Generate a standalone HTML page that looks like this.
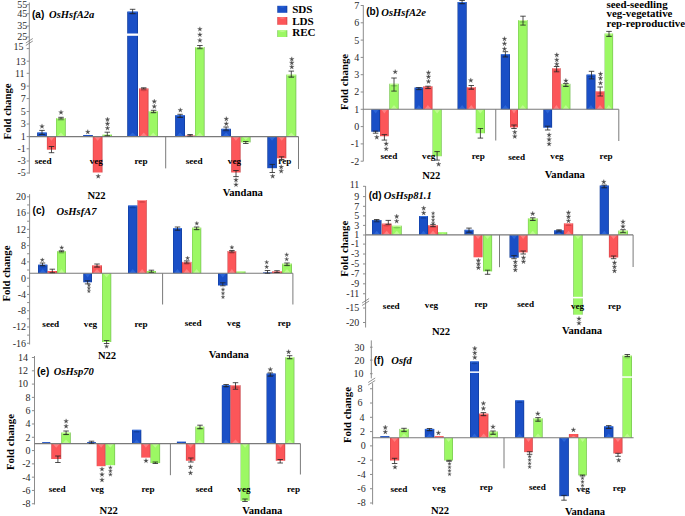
<!DOCTYPE html>
<html><head><meta charset="utf-8"><title>Fold change charts</title><style>html,body{margin:0;padding:0;background:#fff;width:685px;height:516px;overflow:hidden}svg{display:block}</style></head><body>
<svg width="685" height="516" viewBox="0 0 685 516">
<defs>
<linearGradient id="gB" x1="0" x2="1" y1="0" y2="0"><stop offset="0" stop-color="#0e3994"/><stop offset="0.1" stop-color="#1a4fc6"/><stop offset="0.86" stop-color="#1a4fc6"/><stop offset="1" stop-color="#0e3994"/></linearGradient>
<linearGradient id="gR" x1="0" x2="1" y1="0" y2="0"><stop offset="0" stop-color="#c83e42"/><stop offset="0.1" stop-color="#fc5659"/><stop offset="0.86" stop-color="#fc5659"/><stop offset="1" stop-color="#c83e42"/></linearGradient>
<linearGradient id="gG" x1="0" x2="1" y1="0" y2="0"><stop offset="0" stop-color="#74bc52"/><stop offset="0.1" stop-color="#9cf864"/><stop offset="0.86" stop-color="#9cf864"/><stop offset="1" stop-color="#74bc52"/></linearGradient>
<radialGradient id="hB" cx="0.5" cy="0" r="0.6" fx="0.5" fy="0"><stop offset="0" stop-color="#3b78e6" stop-opacity="0.9"/><stop offset="1" stop-color="#3b78e6" stop-opacity="0"/></radialGradient>
<radialGradient id="hR" cx="0.5" cy="0" r="0.6" fx="0.5" fy="0"><stop offset="0" stop-color="#ffa0a0" stop-opacity="0.9"/><stop offset="1" stop-color="#ffa0a0" stop-opacity="0"/></radialGradient>
<radialGradient id="hG" cx="0.5" cy="0" r="0.6" fx="0.5" fy="0"><stop offset="0" stop-color="#d8ffb0" stop-opacity="0.9"/><stop offset="1" stop-color="#d8ffb0" stop-opacity="0"/></radialGradient>
</defs>
<rect width="685" height="516" fill="#fff"/>
<rect x="37.1" y="132.5" width="9.8" height="4.1" fill="url(#gB)"/>
<rect x="37.7" y="132.5" width="8.6" height="1" fill="#3b78e6" fill-opacity="0.85"/>
<ellipse cx="42" cy="134.4" rx="3.3" ry="0.9" fill="#0e3994" fill-opacity="0.75"/>
<path d="M38.3 136.6L42 134.14L45.7 136.6Z" fill="#3b78e6" fill-opacity="0.55"/>
<rect x="46.9" y="136.6" width="9.1" height="13.1" fill="url(#gR)"/>
<path d="M48.1 136.6L51.45 140.8L54.8 136.6Z" fill="#ffa0a0" fill-opacity="0.55"/>
<rect x="56" y="118" width="9.8" height="18.6" fill="url(#gG)"/>
<rect x="56.6" y="118" width="8.6" height="1" fill="#d8ffb0" fill-opacity="0.85"/>
<ellipse cx="60.9" cy="119.9" rx="3.3" ry="0.9" fill="#74bc52" fill-opacity="0.75"/>
<path d="M57.2 136.6L60.9 132.4L64.6 136.6Z" fill="#d8ffb0" fill-opacity="0.55"/>
<rect x="83.2" y="135" width="9.6" height="1.6" fill="url(#gB)"/>
<rect x="92.8" y="136.6" width="9.7" height="35.9" fill="url(#gR)"/>
<path d="M94 136.6L97.65 140.8L101.3 136.6Z" fill="#ffa0a0" fill-opacity="0.55"/>
<rect x="102.5" y="134.6" width="9.5" height="2" fill="url(#gG)"/>
<path d="M103.7 136.6L107.25 135.4L110.8 136.6Z" fill="#d8ffb0" fill-opacity="0.55"/>
<rect x="127.2" y="11.6" width="10.8" height="125" fill="url(#gB)"/>
<rect x="127.8" y="11.6" width="9.6" height="1" fill="#3b78e6" fill-opacity="0.85"/>
<ellipse cx="132.6" cy="13.5" rx="3.8" ry="0.9" fill="#0e3994" fill-opacity="0.75"/>
<path d="M128.4 136.6L132.6 132.4L136.8 136.6Z" fill="#3b78e6" fill-opacity="0.55"/>
<rect x="126.7" y="33.5" width="11.8" height="2.3" fill="#fff"/>
<rect x="139" y="88.4" width="9.5" height="48.2" fill="url(#gR)"/>
<rect x="139.6" y="88.4" width="8.3" height="1" fill="#ffa0a0" fill-opacity="0.85"/>
<ellipse cx="143.75" cy="90.3" rx="3.15" ry="0.9" fill="#c83e42" fill-opacity="0.75"/>
<path d="M140.2 136.6L143.75 132.4L147.3 136.6Z" fill="#ffa0a0" fill-opacity="0.55"/>
<rect x="148.5" y="111.2" width="9.5" height="25.4" fill="url(#gG)"/>
<rect x="149.1" y="111.2" width="8.3" height="1" fill="#d8ffb0" fill-opacity="0.85"/>
<ellipse cx="153.25" cy="113.1" rx="3.15" ry="0.9" fill="#74bc52" fill-opacity="0.75"/>
<path d="M149.7 136.6L153.25 132.4L156.8 136.6Z" fill="#d8ffb0" fill-opacity="0.55"/>
<rect x="175.1" y="115.2" width="9.9" height="21.4" fill="url(#gB)"/>
<rect x="175.7" y="115.2" width="8.7" height="1" fill="#3b78e6" fill-opacity="0.85"/>
<ellipse cx="180.05" cy="117.1" rx="3.35" ry="0.9" fill="#0e3994" fill-opacity="0.75"/>
<path d="M176.3 136.6L180.05 132.4L183.8 136.6Z" fill="#3b78e6" fill-opacity="0.55"/>
<rect x="185.3" y="135.5" width="9.7" height="1.1" fill="url(#gR)"/>
<rect x="195" y="47" width="9.6" height="89.6" fill="url(#gG)"/>
<rect x="195.6" y="47" width="8.4" height="1" fill="#d8ffb0" fill-opacity="0.85"/>
<ellipse cx="199.8" cy="48.9" rx="3.2" ry="0.9" fill="#74bc52" fill-opacity="0.75"/>
<path d="M196.2 136.6L199.8 132.4L203.4 136.6Z" fill="#d8ffb0" fill-opacity="0.55"/>
<rect x="221.2" y="128.8" width="9.8" height="7.8" fill="url(#gB)"/>
<rect x="221.8" y="128.8" width="8.6" height="1" fill="#3b78e6" fill-opacity="0.85"/>
<ellipse cx="226.1" cy="130.7" rx="3.3" ry="0.9" fill="#0e3994" fill-opacity="0.75"/>
<path d="M222.4 136.6L226.1 132.4L229.8 136.6Z" fill="#3b78e6" fill-opacity="0.55"/>
<rect x="231.2" y="136.6" width="9.4" height="35.9" fill="url(#gR)"/>
<path d="M232.4 136.6L235.9 140.8L239.4 136.6Z" fill="#ffa0a0" fill-opacity="0.55"/>
<rect x="240.8" y="136.6" width="9.8" height="5.8" fill="url(#gG)"/>
<path d="M242 136.6L245.7 140.08L249.4 136.6Z" fill="#d8ffb0" fill-opacity="0.55"/>
<rect x="267.3" y="136.6" width="9.6" height="31.6" fill="url(#gB)"/>
<path d="M268.5 136.6L272.1 140.8L275.7 136.6Z" fill="#3b78e6" fill-opacity="0.55"/>
<rect x="277.1" y="136.6" width="9.2" height="21.7" fill="url(#gR)"/>
<path d="M278.3 136.6L281.7 140.8L285.1 136.6Z" fill="#ffa0a0" fill-opacity="0.55"/>
<rect x="286.3" y="74.6" width="10" height="62" fill="url(#gG)"/>
<rect x="286.9" y="74.6" width="8.8" height="1" fill="#d8ffb0" fill-opacity="0.85"/>
<ellipse cx="291.3" cy="76.5" rx="3.4" ry="0.9" fill="#74bc52" fill-opacity="0.75"/>
<path d="M287.5 136.6L291.3 132.4L295.1 136.6Z" fill="#d8ffb0" fill-opacity="0.55"/>
<line x1="29.3" y1="2.5" x2="29.3" y2="173.75" stroke="#8c8c8c" stroke-width="1"/>
<line x1="26.7" y1="4.6" x2="29.3" y2="4.6" stroke="#8c8c8c" stroke-width="1"/>
<text x="27.3" y="8" font-family="Liberation Serif" font-size="10" text-anchor="end" fill="#2a2a2a" >55</text>
<line x1="26.7" y1="13.7" x2="29.3" y2="13.7" stroke="#8c8c8c" stroke-width="1"/>
<text x="27.3" y="17.1" font-family="Liberation Serif" font-size="10" text-anchor="end" fill="#2a2a2a" >45</text>
<line x1="26.7" y1="26" x2="29.3" y2="26" stroke="#8c8c8c" stroke-width="1"/>
<text x="27.3" y="29.4" font-family="Liberation Serif" font-size="10" text-anchor="end" fill="#2a2a2a" >35</text>
<line x1="26.7" y1="37" x2="29.3" y2="37" stroke="#8c8c8c" stroke-width="1"/>
<text x="27.3" y="40.4" font-family="Liberation Serif" font-size="10" text-anchor="end" fill="#2a2a2a" >25</text>
<line x1="26.7" y1="48.6" x2="29.3" y2="48.6" stroke="#8c8c8c" stroke-width="1"/>
<text x="23.5" y="49.9" font-family="Liberation Serif" font-size="10" text-anchor="end" fill="#2a2a2a" >15</text>
<line x1="26.7" y1="61.2" x2="29.3" y2="61.2" stroke="#8c8c8c" stroke-width="1"/>
<text x="25.8" y="64.6" font-family="Liberation Serif" font-size="10" text-anchor="end" fill="#2a2a2a" >13</text>
<line x1="26.7" y1="73.3" x2="29.3" y2="73.3" stroke="#8c8c8c" stroke-width="1"/>
<text x="24.6" y="76.7" font-family="Liberation Serif" font-size="10" text-anchor="end" fill="#2a2a2a" >11</text>
<line x1="26.7" y1="86.1" x2="29.3" y2="86.1" stroke="#8c8c8c" stroke-width="1"/>
<text x="25.8" y="89.5" font-family="Liberation Serif" font-size="10" text-anchor="end" fill="#2a2a2a" >9</text>
<line x1="26.7" y1="98.6" x2="29.3" y2="98.6" stroke="#8c8c8c" stroke-width="1"/>
<text x="25.8" y="102" font-family="Liberation Serif" font-size="10" text-anchor="end" fill="#2a2a2a" >7</text>
<line x1="26.7" y1="111.5" x2="29.3" y2="111.5" stroke="#8c8c8c" stroke-width="1"/>
<text x="25.8" y="114.9" font-family="Liberation Serif" font-size="10" text-anchor="end" fill="#2a2a2a" >5</text>
<line x1="26.7" y1="124" x2="29.3" y2="124" stroke="#8c8c8c" stroke-width="1"/>
<text x="25.8" y="127.4" font-family="Liberation Serif" font-size="10" text-anchor="end" fill="#2a2a2a" >3</text>
<line x1="26.7" y1="136.6" x2="29.3" y2="136.6" stroke="#8c8c8c" stroke-width="1"/>
<text x="25.8" y="140" font-family="Liberation Serif" font-size="10" text-anchor="end" fill="#2a2a2a" >1</text>
<line x1="26.7" y1="148.8" x2="29.3" y2="148.8" stroke="#8c8c8c" stroke-width="1"/>
<text x="25.8" y="152.2" font-family="Liberation Serif" font-size="10" text-anchor="end" fill="#2a2a2a" >-1</text>
<line x1="26.7" y1="161" x2="29.3" y2="161" stroke="#8c8c8c" stroke-width="1"/>
<text x="25.8" y="164.4" font-family="Liberation Serif" font-size="10" text-anchor="end" fill="#2a2a2a" >-3</text>
<line x1="26.7" y1="173" x2="29.3" y2="173" stroke="#8c8c8c" stroke-width="1"/>
<text x="25.8" y="176.4" font-family="Liberation Serif" font-size="10" text-anchor="end" fill="#2a2a2a" >-5</text>
<line x1="29.3" y1="136.6" x2="298.5" y2="136.6" stroke="#7a7a7a" stroke-width="1.1"/>
<line x1="165.7" y1="136.6" x2="165.7" y2="168.4" stroke="#7a7a7a" stroke-width="1"/>
<line x1="298.5" y1="136.6" x2="298.5" y2="169" stroke="#7a7a7a" stroke-width="1"/>
<text x="43.1" y="164.3" font-family="Liberation Serif" font-size="9.2" font-weight="bold" text-anchor="middle" fill="#000" >seed</text>
<text x="96.3" y="164.3" font-family="Liberation Serif" font-size="9.2" font-weight="bold" text-anchor="middle" fill="#000" >veg</text>
<text x="141" y="164.3" font-family="Liberation Serif" font-size="9.2" font-weight="bold" text-anchor="middle" fill="#000" >rep</text>
<text x="194.1" y="164.3" font-family="Liberation Serif" font-size="9.2" font-weight="bold" text-anchor="middle" fill="#000" >seed</text>
<text x="234.5" y="164.3" font-family="Liberation Serif" font-size="9.2" font-weight="bold" text-anchor="middle" fill="#000" >veg</text>
<text x="284.9" y="164.3" font-family="Liberation Serif" font-size="9.2" font-weight="bold" text-anchor="middle" fill="#000" >rep</text>
<text x="32" y="17.8" font-family="Liberation Sans" font-size="10" font-weight="bold" fill="#000" >(a)</text>
<text x="49" y="18" font-family="Liberation Serif" font-size="10.6" font-weight="bold" font-style="italic" fill="#000" >OsHsfA2a</text>
<text x="7.6" y="111.4" font-family="Liberation Serif" font-size="10.8" font-weight="bold" text-anchor="middle" fill="#000" transform="rotate(-90 7.6 111.4)" dy="3.6">Fold change</text>
<text x="96.5" y="199.45" font-family="Liberation Serif" font-size="10.6" font-weight="bold" text-anchor="middle" fill="#000" >N22</text>
<text x="242.75" y="196.2" font-family="Liberation Serif" font-size="10.6" font-weight="bold" text-anchor="middle" fill="#000" >Vandana</text>
<path d="M39.25 130.4H44.75M42 130.4V134.6M39.25 134.6H44.75" stroke="#222" stroke-width="0.8" fill="none"/>
<path d="M48.75 146.5H54.25M51.5 146.5V152.7M48.75 152.7H54.25" stroke="#222" stroke-width="0.8" fill="none"/>
<path d="M58.25 117.3H63.75M61 117.3V118.9M58.25 118.9H63.75" stroke="#222" stroke-width="0.8" fill="none"/>
<path d="M104.55 132.2H110.05M107.3 132.2V135.7M104.55 135.7H110.05" stroke="#222" stroke-width="0.8" fill="none"/>
<path d="M129.85 9.3H135.35M132.6 9.3V13.6M129.85 13.6H135.35" stroke="#222" stroke-width="0.8" fill="none"/>
<path d="M140.95 87.8H146.45M143.7 87.8V89M140.95 89H146.45" stroke="#222" stroke-width="0.8" fill="none"/>
<path d="M150.85 110.3H156.35M153.6 110.3V112.4M150.85 112.4H156.35" stroke="#222" stroke-width="0.8" fill="none"/>
<path d="M177.35 114.3H182.85M180.1 114.3V117.5M177.35 117.5H182.85" stroke="#222" stroke-width="0.8" fill="none"/>
<path d="M187.35 134.5H192.85M190.1 134.5V136M187.35 136H192.85" stroke="#222" stroke-width="0.8" fill="none"/>
<path d="M197.15 45.5H202.65M199.9 45.5V48.2M197.15 48.2H202.65" stroke="#222" stroke-width="0.8" fill="none"/>
<path d="M223.35 127H228.85M226.1 127V130M223.35 130H228.85" stroke="#222" stroke-width="0.8" fill="none"/>
<path d="M233.25 170.5H238.75M236 170.5V176.6M233.25 176.6H238.75" stroke="#222" stroke-width="0.8" fill="none"/>
<path d="M243.05 141.5H248.55M245.8 141.5V143.5M243.05 143.5H248.55" stroke="#222" stroke-width="0.8" fill="none"/>
<path d="M269.55 164.4H275.05M272.3 164.4V172.5M269.55 172.5H275.05" stroke="#222" stroke-width="0.8" fill="none"/>
<path d="M278.85 156.8H284.35M281.6 156.8V159.5M278.85 159.5H284.35" stroke="#222" stroke-width="0.8" fill="none"/>
<path d="M288.55 71.1H294.05M291.3 71.1V77.2M288.55 77.2H294.05" stroke="#222" stroke-width="0.8" fill="none"/>
<path d="M42 123.9L42.53 125.67L44.38 125.63L42.86 126.68L43.47 128.42L42 127.3L40.53 128.42L41.14 126.68L39.62 125.63L41.47 125.67ZM61 109.9L61.53 111.67L63.38 111.63L61.86 112.68L62.47 114.42L61 113.3L59.53 114.42L60.14 112.68L58.62 111.63L60.47 111.67ZM87.8 129.5L88.33 131.27L90.18 131.23L88.66 132.28L89.27 134.02L87.8 132.9L86.33 134.02L86.94 132.28L85.42 131.23L87.27 131.27ZM98.2 173.8L98.73 175.57L100.58 175.53L99.06 176.58L99.67 178.32L98.2 177.2L96.73 178.32L97.34 176.58L95.82 175.53L97.67 175.57ZM107.5 117L108.03 118.77L109.88 118.73L108.36 119.78L108.97 121.52L107.5 120.4L106.03 121.52L106.64 119.78L105.12 118.73L106.97 118.77ZM107.5 121.3L108.03 123.07L109.88 123.03L108.36 124.08L108.97 125.82L107.5 124.7L106.03 125.82L106.64 124.08L105.12 123.03L106.97 123.07ZM107.5 125.7L108.03 127.47L109.88 127.43L108.36 128.48L108.97 130.22L107.5 129.1L106.03 130.22L106.64 128.48L105.12 127.43L106.97 127.47ZM154.3 99.1L154.83 100.87L156.68 100.83L155.16 101.88L155.77 103.62L154.3 102.5L152.83 103.62L153.44 101.88L151.92 100.83L153.77 100.87ZM154.3 104L154.83 105.77L156.68 105.73L155.16 106.78L155.77 108.52L154.3 107.4L152.83 108.52L153.44 106.78L151.92 105.73L153.77 105.77ZM180.3 107.7L180.83 109.47L182.68 109.43L181.16 110.48L181.77 112.22L180.3 111.1L178.83 112.22L179.44 110.48L177.92 109.43L179.77 109.47ZM199.9 26.7L200.43 28.47L202.28 28.43L200.76 29.48L201.37 31.22L199.9 30.1L198.43 31.22L199.04 29.48L197.52 28.43L199.37 28.47ZM199.9 32.2L200.43 33.97L202.28 33.93L200.76 34.98L201.37 36.72L199.9 35.6L198.43 36.72L199.04 34.98L197.52 33.93L199.37 33.97ZM199.9 37.9L200.43 39.67L202.28 39.63L200.76 40.68L201.37 42.42L199.9 41.3L198.43 42.42L199.04 40.68L197.52 39.63L199.37 39.67ZM226.3 116.5L226.83 118.27L228.68 118.23L227.16 119.28L227.77 121.02L226.3 119.9L224.83 121.02L225.44 119.28L223.92 118.23L225.77 118.27ZM226.3 121.3L226.83 123.07L228.68 123.03L227.16 124.08L227.77 125.82L226.3 124.7L224.83 125.82L225.44 124.08L223.92 123.03L225.77 123.07ZM236 177.5L236.53 179.27L238.38 179.23L236.86 180.28L237.47 182.02L236 180.9L234.53 182.02L235.14 180.28L233.62 179.23L235.47 179.27ZM236 182.2L236.53 183.97L238.38 183.93L236.86 184.98L237.47 186.72L236 185.6L234.53 186.72L235.14 184.98L233.62 183.93L235.47 183.97ZM272.7 173.8L273.23 175.57L275.08 175.53L273.56 176.58L274.17 178.32L272.7 177.2L271.23 178.32L271.84 176.58L270.32 175.53L272.17 175.57ZM281.2 164.6L281.73 166.37L283.58 166.33L282.06 167.38L282.67 169.12L281.2 168L279.73 169.12L280.34 167.38L278.82 166.33L280.67 166.37ZM281.2 168.7L281.73 170.47L283.58 170.43L282.06 171.48L282.67 173.22L281.2 172.1L279.73 173.22L280.34 171.48L278.82 170.43L280.67 170.47ZM291.8 56.7L292.33 58.47L294.18 58.43L292.66 59.48L293.27 61.22L291.8 60.1L290.33 61.22L290.94 59.48L289.42 58.43L291.27 58.47ZM291.8 60.4L292.33 62.17L294.18 62.13L292.66 63.18L293.27 64.92L291.8 63.8L290.33 64.92L290.94 63.18L289.42 62.13L291.27 62.17ZM291.8 64.5L292.33 66.27L294.18 66.23L292.66 67.28L293.27 69.02L291.8 67.9L290.33 69.02L290.94 67.28L289.42 66.23L291.27 66.27Z" fill="#4a4a4a" stroke="#4a4a4a" stroke-width="0.25"/>
<path d="M25.8 43L32.8 38.5M25.8 45.5L32.8 41" stroke="#777" stroke-width="0.8" fill="none"/>
<rect x="371.25" y="109.3" width="8.75" height="22.45" fill="url(#gB)"/>
<path d="M372.45 109.3L375.62 113.5L378.8 109.3Z" fill="#3b78e6" fill-opacity="0.55"/>
<rect x="380" y="109.3" width="8.75" height="26.95" fill="url(#gR)"/>
<path d="M381.2 109.3L384.38 113.5L387.55 109.3Z" fill="#ffa0a0" fill-opacity="0.55"/>
<rect x="389.25" y="83.75" width="9.5" height="25.55" fill="url(#gG)"/>
<rect x="389.85" y="83.75" width="8.3" height="1" fill="#d8ffb0" fill-opacity="0.85"/>
<ellipse cx="394" cy="85.65" rx="3.15" ry="0.9" fill="#74bc52" fill-opacity="0.75"/>
<path d="M390.45 109.3L394 105.1L397.55 109.3Z" fill="#d8ffb0" fill-opacity="0.55"/>
<rect x="414.5" y="87.5" width="8.75" height="21.8" fill="url(#gB)"/>
<rect x="415.1" y="87.5" width="7.55" height="1" fill="#3b78e6" fill-opacity="0.85"/>
<ellipse cx="418.88" cy="89.4" rx="2.77" ry="0.9" fill="#0e3994" fill-opacity="0.75"/>
<path d="M415.7 109.3L418.88 105.1L422.05 109.3Z" fill="#3b78e6" fill-opacity="0.55"/>
<rect x="423.25" y="86.25" width="9.25" height="23.05" fill="url(#gR)"/>
<rect x="423.85" y="86.25" width="8.05" height="1" fill="#ffa0a0" fill-opacity="0.85"/>
<ellipse cx="427.88" cy="88.15" rx="3.02" ry="0.9" fill="#c83e42" fill-opacity="0.75"/>
<path d="M424.45 109.3L427.88 105.1L431.3 109.3Z" fill="#ffa0a0" fill-opacity="0.55"/>
<rect x="432.5" y="109.3" width="9.25" height="46.95" fill="url(#gG)"/>
<path d="M433.7 109.3L437.12 113.5L440.55 109.3Z" fill="#d8ffb0" fill-opacity="0.55"/>
<rect x="457.5" y="2" width="9.25" height="107.3" fill="url(#gB)"/>
<rect x="458.1" y="2" width="8.05" height="1" fill="#3b78e6" fill-opacity="0.85"/>
<ellipse cx="462.12" cy="3.9" rx="3.02" ry="0.9" fill="#0e3994" fill-opacity="0.75"/>
<path d="M458.7 109.3L462.12 105.1L465.55 109.3Z" fill="#3b78e6" fill-opacity="0.55"/>
<rect x="466.75" y="87" width="9" height="22.3" fill="url(#gR)"/>
<rect x="467.35" y="87" width="7.8" height="1" fill="#ffa0a0" fill-opacity="0.85"/>
<ellipse cx="471.25" cy="88.9" rx="2.9" ry="0.9" fill="#c83e42" fill-opacity="0.75"/>
<path d="M467.95 109.3L471.25 105.1L474.55 109.3Z" fill="#ffa0a0" fill-opacity="0.55"/>
<rect x="475.75" y="109.3" width="9.25" height="23.95" fill="url(#gG)"/>
<path d="M476.95 109.3L480.38 113.5L483.8 109.3Z" fill="#d8ffb0" fill-opacity="0.55"/>
<rect x="500.8" y="54.2" width="9.2" height="55.1" fill="url(#gB)"/>
<rect x="501.4" y="54.2" width="8" height="1" fill="#3b78e6" fill-opacity="0.85"/>
<ellipse cx="505.4" cy="56.1" rx="3" ry="0.9" fill="#0e3994" fill-opacity="0.75"/>
<path d="M502 109.3L505.4 105.1L508.8 109.3Z" fill="#3b78e6" fill-opacity="0.55"/>
<rect x="510" y="109.3" width="8" height="18.1" fill="url(#gR)"/>
<path d="M511.2 109.3L514 113.5L516.8 109.3Z" fill="#ffa0a0" fill-opacity="0.55"/>
<rect x="518" y="20" width="9.6" height="89.3" fill="url(#gG)"/>
<rect x="518.6" y="20" width="8.4" height="1" fill="#d8ffb0" fill-opacity="0.85"/>
<ellipse cx="522.8" cy="21.9" rx="3.2" ry="0.9" fill="#74bc52" fill-opacity="0.75"/>
<path d="M519.2 109.3L522.8 105.1L526.4 109.3Z" fill="#d8ffb0" fill-opacity="0.55"/>
<rect x="543.3" y="109.3" width="8.8" height="18.4" fill="url(#gB)"/>
<path d="M544.5 109.3L547.7 113.5L550.9 109.3Z" fill="#3b78e6" fill-opacity="0.55"/>
<rect x="552.1" y="68.2" width="8.6" height="41.1" fill="url(#gR)"/>
<rect x="552.7" y="68.2" width="7.4" height="1" fill="#ffa0a0" fill-opacity="0.85"/>
<ellipse cx="556.4" cy="70.1" rx="2.7" ry="0.9" fill="#c83e42" fill-opacity="0.75"/>
<path d="M553.3 109.3L556.4 105.1L559.5 109.3Z" fill="#ffa0a0" fill-opacity="0.55"/>
<rect x="561.3" y="83.8" width="9.1" height="25.5" fill="url(#gG)"/>
<rect x="561.9" y="83.8" width="7.9" height="1" fill="#d8ffb0" fill-opacity="0.85"/>
<ellipse cx="565.85" cy="85.7" rx="2.95" ry="0.9" fill="#74bc52" fill-opacity="0.75"/>
<path d="M562.5 109.3L565.85 105.1L569.2 109.3Z" fill="#d8ffb0" fill-opacity="0.55"/>
<rect x="586.4" y="74.6" width="9.1" height="34.7" fill="url(#gB)"/>
<rect x="587" y="74.6" width="7.9" height="1" fill="#3b78e6" fill-opacity="0.85"/>
<ellipse cx="590.95" cy="76.5" rx="2.95" ry="0.9" fill="#0e3994" fill-opacity="0.75"/>
<path d="M587.6 109.3L590.95 105.1L594.3 109.3Z" fill="#3b78e6" fill-opacity="0.55"/>
<rect x="595.5" y="91.2" width="9.1" height="18.1" fill="url(#gR)"/>
<rect x="596.1" y="91.2" width="7.9" height="1" fill="#ffa0a0" fill-opacity="0.85"/>
<ellipse cx="600.05" cy="93.1" rx="2.95" ry="0.9" fill="#c83e42" fill-opacity="0.75"/>
<path d="M596.7 109.3L600.05 105.1L603.4 109.3Z" fill="#ffa0a0" fill-opacity="0.55"/>
<rect x="604.6" y="33.5" width="8.5" height="75.8" fill="url(#gG)"/>
<rect x="605.2" y="33.5" width="7.3" height="1" fill="#d8ffb0" fill-opacity="0.85"/>
<ellipse cx="608.85" cy="35.4" rx="2.65" ry="0.9" fill="#74bc52" fill-opacity="0.75"/>
<path d="M605.8 109.3L608.85 105.1L611.9 109.3Z" fill="#d8ffb0" fill-opacity="0.55"/>
<line x1="363.3" y1="5.2" x2="363.3" y2="161.25" stroke="#8c8c8c" stroke-width="1"/>
<line x1="360.7" y1="5.5" x2="363.3" y2="5.5" stroke="#8c8c8c" stroke-width="1"/>
<text x="359.2" y="8.9" font-family="Liberation Serif" font-size="10" text-anchor="end" fill="#2a2a2a" >7</text>
<line x1="360.7" y1="22.8" x2="363.3" y2="22.8" stroke="#8c8c8c" stroke-width="1"/>
<text x="359.2" y="26.2" font-family="Liberation Serif" font-size="10" text-anchor="end" fill="#2a2a2a" >6</text>
<line x1="360.7" y1="40.1" x2="363.3" y2="40.1" stroke="#8c8c8c" stroke-width="1"/>
<text x="359.2" y="43.5" font-family="Liberation Serif" font-size="10" text-anchor="end" fill="#2a2a2a" >5</text>
<line x1="360.7" y1="57.4" x2="363.3" y2="57.4" stroke="#8c8c8c" stroke-width="1"/>
<text x="359.2" y="60.8" font-family="Liberation Serif" font-size="10" text-anchor="end" fill="#2a2a2a" >4</text>
<line x1="360.7" y1="74.7" x2="363.3" y2="74.7" stroke="#8c8c8c" stroke-width="1"/>
<text x="359.2" y="78.1" font-family="Liberation Serif" font-size="10" text-anchor="end" fill="#2a2a2a" >3</text>
<line x1="360.7" y1="92" x2="363.3" y2="92" stroke="#8c8c8c" stroke-width="1"/>
<text x="359.2" y="95.4" font-family="Liberation Serif" font-size="10" text-anchor="end" fill="#2a2a2a" >2</text>
<line x1="360.7" y1="109.3" x2="363.3" y2="109.3" stroke="#8c8c8c" stroke-width="1"/>
<text x="359.2" y="112.7" font-family="Liberation Serif" font-size="10" text-anchor="end" fill="#2a2a2a" >1</text>
<line x1="360.7" y1="126.6" x2="363.3" y2="126.6" stroke="#8c8c8c" stroke-width="1"/>
<text x="359.2" y="130" font-family="Liberation Serif" font-size="10" text-anchor="end" fill="#2a2a2a" >0</text>
<line x1="360.7" y1="143.9" x2="363.3" y2="143.9" stroke="#8c8c8c" stroke-width="1"/>
<text x="359.2" y="147.3" font-family="Liberation Serif" font-size="10" text-anchor="end" fill="#2a2a2a" >-1</text>
<line x1="360.7" y1="161.2" x2="363.3" y2="161.2" stroke="#8c8c8c" stroke-width="1"/>
<text x="359.2" y="164.6" font-family="Liberation Serif" font-size="10" text-anchor="end" fill="#2a2a2a" >-2</text>
<line x1="363.3" y1="109.3" x2="618.8" y2="109.3" stroke="#7a7a7a" stroke-width="1.1"/>
<line x1="495.75" y1="109.3" x2="495.75" y2="140.5" stroke="#7a7a7a" stroke-width="1"/>
<line x1="618.8" y1="109.3" x2="618.8" y2="141" stroke="#7a7a7a" stroke-width="1"/>
<text x="388.9" y="159.3" font-family="Liberation Serif" font-size="9.2" font-weight="bold" text-anchor="middle" fill="#000" >seed</text>
<text x="428.75" y="159.3" font-family="Liberation Serif" font-size="9.2" font-weight="bold" text-anchor="middle" fill="#000" >veg</text>
<text x="478.25" y="159.3" font-family="Liberation Serif" font-size="9.2" font-weight="bold" text-anchor="middle" fill="#000" >rep</text>
<text x="516.6" y="160.2" font-family="Liberation Serif" font-size="9.2" font-weight="bold" text-anchor="middle" fill="#000" >seed</text>
<text x="557" y="159.3" font-family="Liberation Serif" font-size="9.2" font-weight="bold" text-anchor="middle" fill="#000" >veg</text>
<text x="606.1" y="158.5" font-family="Liberation Serif" font-size="9.2" font-weight="bold" text-anchor="middle" fill="#000" >rep</text>
<text x="366.25" y="15.35" font-family="Liberation Sans" font-size="10" font-weight="bold" fill="#000" >(b)</text>
<text x="381.25" y="16.3" font-family="Liberation Serif" font-size="10.6" font-weight="bold" font-style="italic" fill="#000" >OsHsfA2e</text>
<text x="344" y="81.9" font-family="Liberation Serif" font-size="10.8" font-weight="bold" text-anchor="middle" fill="#000" transform="rotate(-90 344 81.9)" dy="3.6">Fold change</text>
<text x="431.25" y="179.2" font-family="Liberation Serif" font-size="10.6" font-weight="bold" text-anchor="middle" fill="#000" >N22</text>
<text x="564.8" y="177.8" font-family="Liberation Serif" font-size="10.6" font-weight="bold" text-anchor="middle" fill="#000" >Vandana</text>
<path d="M372.85 131.1H378.35M375.6 131.1V133.2M372.85 133.2H378.35" stroke="#222" stroke-width="0.8" fill="none"/>
<path d="M381.65 134.6H387.15M384.4 134.6V140.1M381.65 140.1H387.15" stroke="#222" stroke-width="0.8" fill="none"/>
<path d="M391.25 78H396.75M394 78V91.1M391.25 91.1H396.75" stroke="#222" stroke-width="0.8" fill="none"/>
<path d="M416.15 87.6H421.65M418.9 87.6V89.6M416.15 89.6H421.65" stroke="#222" stroke-width="0.8" fill="none"/>
<path d="M425.25 86.2H430.75M428 86.2V88.6M425.25 88.6H430.75" stroke="#222" stroke-width="0.8" fill="none"/>
<path d="M434.35 151.6H439.85M437.1 151.6V160.1M434.35 160.1H439.85" stroke="#222" stroke-width="0.8" fill="none"/>
<path d="M459.35 0.5H464.85M462.1 0.5V3.5M459.35 3.5H464.85" stroke="#222" stroke-width="0.8" fill="none"/>
<path d="M468.5 85.5H474M471.25 85.5V89.2M468.5 89.2H474" stroke="#222" stroke-width="0.8" fill="none"/>
<path d="M477.65 128.5H483.15M480.4 128.5V138.1M477.65 138.1H483.15" stroke="#222" stroke-width="0.8" fill="none"/>
<path d="M502.65 51.7H508.15M505.4 51.7V57M502.65 57H508.15" stroke="#222" stroke-width="0.8" fill="none"/>
<path d="M511.25 125H516.75M514 125V128.5M511.25 128.5H516.75" stroke="#222" stroke-width="0.8" fill="none"/>
<path d="M520.25 16.2H525.75M523 16.2V25.1M520.25 25.1H525.75" stroke="#222" stroke-width="0.8" fill="none"/>
<path d="M544.95 126.2H550.45M547.7 126.2V130M544.95 130H550.45" stroke="#222" stroke-width="0.8" fill="none"/>
<path d="M553.85 66.5H559.35M556.6 66.5V71.8M553.85 71.8H559.35" stroke="#222" stroke-width="0.8" fill="none"/>
<path d="M563.15 83.6H568.65M565.9 83.6V86.5M563.15 86.5H568.65" stroke="#222" stroke-width="0.8" fill="none"/>
<path d="M588.75 71.3H594.25M591.5 71.3V78.9M588.75 78.9H594.25" stroke="#222" stroke-width="0.8" fill="none"/>
<path d="M597.45 87H602.95M600.2 87V96M597.45 96H602.95" stroke="#222" stroke-width="0.8" fill="none"/>
<path d="M606.25 31.4H611.75M609 31.4V36.5M606.25 36.5H611.75" stroke="#222" stroke-width="0.8" fill="none"/>
<path d="M376.8 134.8L377.33 136.57L379.18 136.53L377.66 137.58L378.27 139.32L376.8 138.2L375.33 139.32L375.94 137.58L374.42 136.53L376.27 136.57ZM386.2 141.3L386.73 143.07L388.58 143.03L387.06 144.08L387.67 145.82L386.2 144.7L384.73 145.82L385.34 144.08L383.82 143.03L385.67 143.07ZM386.2 146.4L386.73 148.17L388.58 148.13L387.06 149.18L387.67 150.92L386.2 149.8L384.73 150.92L385.34 149.18L383.82 148.13L385.67 148.17ZM395.2 69.4L395.73 71.17L397.58 71.13L396.06 72.18L396.67 73.92L395.2 72.8L393.73 73.92L394.34 72.18L392.82 71.13L394.67 71.17ZM428.5 70.2L429.03 71.97L430.88 71.93L429.36 72.98L429.97 74.72L428.5 73.6L427.03 74.72L427.64 72.98L426.12 71.93L427.97 71.97ZM428.5 74.3L429.03 76.07L430.88 76.03L429.36 77.08L429.97 78.82L428.5 77.7L427.03 78.82L427.64 77.08L426.12 76.03L427.97 76.07ZM428.5 79L429.03 80.77L430.88 80.73L429.36 81.78L429.97 83.52L428.5 82.4L427.03 83.52L427.64 81.78L426.12 80.73L427.97 80.77ZM438.6 161.8L439.13 163.57L440.98 163.53L439.46 164.58L440.07 166.32L438.6 165.2L437.13 166.32L437.74 164.58L436.22 163.53L438.07 163.57ZM470.8 77.9L471.33 79.67L473.18 79.63L471.66 80.68L472.27 82.42L470.8 81.3L469.33 82.42L469.94 80.68L468.42 79.63L470.27 79.67ZM504.5 36.5L505.03 38.27L506.88 38.23L505.36 39.28L505.97 41.02L504.5 39.9L503.03 41.02L503.64 39.28L502.12 38.23L503.97 38.27ZM504.5 41.2L505.03 42.97L506.88 42.93L505.36 43.98L505.97 45.72L504.5 44.6L503.03 45.72L503.64 43.98L502.12 42.93L503.97 42.97ZM504.5 46.5L505.03 48.27L506.88 48.23L505.36 49.28L505.97 51.02L504.5 49.9L503.03 51.02L503.64 49.28L502.12 48.23L503.97 48.27ZM514.8 129.7L515.33 131.47L517.18 131.43L515.66 132.48L516.27 134.22L514.8 133.1L513.33 134.22L513.94 132.48L512.42 131.43L514.27 131.47ZM514.8 134L515.33 135.77L517.18 135.73L515.66 136.78L516.27 138.52L514.8 137.4L513.33 138.52L513.94 136.78L512.42 135.73L514.27 135.77ZM549.1 132.5L549.63 134.27L551.48 134.23L549.96 135.28L550.57 137.02L549.1 135.9L547.63 137.02L548.24 135.28L546.72 134.23L548.57 134.27ZM549.1 137L549.63 138.77L551.48 138.73L549.96 139.78L550.57 141.52L549.1 140.4L547.63 141.52L548.24 139.78L546.72 138.73L548.57 138.77ZM549.1 141.5L549.63 143.27L551.48 143.23L549.96 144.28L550.57 146.02L549.1 144.9L547.63 146.02L548.24 144.28L546.72 143.23L548.57 143.27ZM556.8 52.6L557.33 54.37L559.18 54.33L557.66 55.38L558.27 57.12L556.8 56L555.33 57.12L555.94 55.38L554.42 54.33L556.27 54.37ZM556.8 57.4L557.33 59.17L559.18 59.13L557.66 60.18L558.27 61.92L556.8 60.8L555.33 61.92L555.94 60.18L554.42 59.13L556.27 59.17ZM556.8 61.7L557.33 63.47L559.18 63.43L557.66 64.48L558.27 66.22L556.8 65.1L555.33 66.22L555.94 64.48L554.42 63.43L556.27 63.47ZM565.9 78.3L566.43 80.07L568.28 80.03L566.76 81.08L567.37 82.82L565.9 81.7L564.43 82.82L565.04 81.08L563.52 80.03L565.37 80.07ZM600.5 71.6L601.03 73.37L602.88 73.33L601.36 74.38L601.97 76.12L600.5 75L599.03 76.12L599.64 74.38L598.12 73.33L599.97 73.37ZM600.5 75.8L601.03 77.57L602.88 77.53L601.36 78.58L601.97 80.32L600.5 79.2L599.03 80.32L599.64 78.58L598.12 77.53L599.97 77.57ZM600.5 80.7L601.03 82.47L602.88 82.43L601.36 83.48L601.97 85.22L600.5 84.1L599.03 85.22L599.64 83.48L598.12 82.43L599.97 82.47Z" fill="#4a4a4a" stroke="#4a4a4a" stroke-width="0.25"/>
<rect x="38" y="264.7" width="9.5" height="8.55" fill="url(#gB)"/>
<rect x="38.6" y="264.7" width="8.3" height="1" fill="#3b78e6" fill-opacity="0.85"/>
<ellipse cx="42.75" cy="266.6" rx="3.15" ry="0.9" fill="#0e3994" fill-opacity="0.75"/>
<path d="M39.2 273.25L42.75 269.05L46.3 273.25Z" fill="#3b78e6" fill-opacity="0.55"/>
<rect x="47.5" y="271" width="9.5" height="2.25" fill="url(#gR)"/>
<path d="M48.7 273.25L52.25 271.9L55.8 273.25Z" fill="#ffa0a0" fill-opacity="0.55"/>
<rect x="57" y="251" width="9" height="22.25" fill="url(#gG)"/>
<rect x="57.6" y="251" width="7.8" height="1" fill="#d8ffb0" fill-opacity="0.85"/>
<ellipse cx="61.5" cy="252.9" rx="2.9" ry="0.9" fill="#74bc52" fill-opacity="0.75"/>
<path d="M58.2 273.25L61.5 269.05L64.8 273.25Z" fill="#d8ffb0" fill-opacity="0.55"/>
<rect x="83.25" y="273.25" width="8.75" height="9.05" fill="url(#gB)"/>
<path d="M84.45 273.25L87.62 277.45L90.8 273.25Z" fill="#3b78e6" fill-opacity="0.55"/>
<rect x="92" y="265.3" width="10" height="7.95" fill="url(#gR)"/>
<rect x="92.6" y="265.3" width="8.8" height="1" fill="#ffa0a0" fill-opacity="0.85"/>
<ellipse cx="97" cy="267.2" rx="3.4" ry="0.9" fill="#c83e42" fill-opacity="0.75"/>
<path d="M93.2 273.25L97 269.05L100.8 273.25Z" fill="#ffa0a0" fill-opacity="0.55"/>
<rect x="102" y="273.25" width="9.25" height="68.75" fill="url(#gG)"/>
<path d="M103.2 273.25L106.62 277.45L110.05 273.25Z" fill="#d8ffb0" fill-opacity="0.55"/>
<rect x="128" y="205.5" width="9.5" height="67.75" fill="url(#gB)"/>
<rect x="128.6" y="205.5" width="8.3" height="1" fill="#3b78e6" fill-opacity="0.85"/>
<ellipse cx="132.75" cy="207.4" rx="3.15" ry="0.9" fill="#0e3994" fill-opacity="0.75"/>
<path d="M129.2 273.25L132.75 269.05L136.3 273.25Z" fill="#3b78e6" fill-opacity="0.55"/>
<rect x="137.5" y="200" width="9.25" height="73.25" fill="url(#gR)"/>
<rect x="138.1" y="200" width="8.05" height="1" fill="#ffa0a0" fill-opacity="0.85"/>
<ellipse cx="142.12" cy="201.9" rx="3.02" ry="0.9" fill="#c83e42" fill-opacity="0.75"/>
<path d="M138.7 273.25L142.12 269.05L145.55 273.25Z" fill="#ffa0a0" fill-opacity="0.55"/>
<rect x="146.75" y="271" width="9.25" height="2.25" fill="url(#gG)"/>
<path d="M147.95 273.25L151.38 271.9L154.8 273.25Z" fill="#d8ffb0" fill-opacity="0.55"/>
<rect x="173" y="228.2" width="9" height="45.05" fill="url(#gB)"/>
<rect x="173.6" y="228.2" width="7.8" height="1" fill="#3b78e6" fill-opacity="0.85"/>
<ellipse cx="177.5" cy="230.1" rx="2.9" ry="0.9" fill="#0e3994" fill-opacity="0.75"/>
<path d="M174.2 273.25L177.5 269.05L180.8 273.25Z" fill="#3b78e6" fill-opacity="0.55"/>
<rect x="182" y="261.9" width="9.5" height="11.35" fill="url(#gR)"/>
<rect x="182.6" y="261.9" width="8.3" height="1" fill="#ffa0a0" fill-opacity="0.85"/>
<ellipse cx="186.75" cy="263.8" rx="3.15" ry="0.9" fill="#c83e42" fill-opacity="0.75"/>
<path d="M183.2 273.25L186.75 269.05L190.3 273.25Z" fill="#ffa0a0" fill-opacity="0.55"/>
<rect x="192" y="227.6" width="9.25" height="45.65" fill="url(#gG)"/>
<rect x="192.6" y="227.6" width="8.05" height="1" fill="#d8ffb0" fill-opacity="0.85"/>
<ellipse cx="196.62" cy="229.5" rx="3.02" ry="0.9" fill="#74bc52" fill-opacity="0.75"/>
<path d="M193.2 273.25L196.62 269.05L200.05 273.25Z" fill="#d8ffb0" fill-opacity="0.55"/>
<rect x="218" y="273.25" width="9.5" height="12.25" fill="url(#gB)"/>
<path d="M219.2 273.25L222.75 277.45L226.3 273.25Z" fill="#3b78e6" fill-opacity="0.55"/>
<rect x="227.5" y="251" width="8.75" height="22.25" fill="url(#gR)"/>
<rect x="228.1" y="251" width="7.55" height="1" fill="#ffa0a0" fill-opacity="0.85"/>
<ellipse cx="231.88" cy="252.9" rx="2.77" ry="0.9" fill="#c83e42" fill-opacity="0.75"/>
<path d="M228.7 273.25L231.88 269.05L235.05 273.25Z" fill="#ffa0a0" fill-opacity="0.55"/>
<rect x="236.25" y="271.4" width="9.25" height="1.85" fill="url(#gG)"/>
<path d="M237.45 273.25L240.88 272.14L244.3 273.25Z" fill="#d8ffb0" fill-opacity="0.55"/>
<rect x="263" y="272.4" width="9" height="0.85" fill="url(#gB)"/>
<rect x="272" y="271.4" width="10" height="1.85" fill="url(#gR)"/>
<path d="M273.2 273.25L277 272.14L280.8 273.25Z" fill="#ffa0a0" fill-opacity="0.55"/>
<rect x="282" y="263.6" width="10" height="9.65" fill="url(#gG)"/>
<rect x="282.6" y="263.6" width="8.8" height="1" fill="#d8ffb0" fill-opacity="0.85"/>
<ellipse cx="287" cy="265.5" rx="3.4" ry="0.9" fill="#74bc52" fill-opacity="0.75"/>
<path d="M283.2 273.25L287 269.05L290.8 273.25Z" fill="#d8ffb0" fill-opacity="0.55"/>
<line x1="29.6" y1="194.2" x2="29.6" y2="344.5" stroke="#8c8c8c" stroke-width="1"/>
<line x1="27" y1="196.8" x2="29.6" y2="196.8" stroke="#8c8c8c" stroke-width="1"/>
<text x="26.1" y="200.2" font-family="Liberation Serif" font-size="10" text-anchor="end" fill="#2a2a2a" >20</text>
<line x1="27" y1="213.07" x2="29.6" y2="213.07" stroke="#8c8c8c" stroke-width="1"/>
<text x="26.1" y="216.47" font-family="Liberation Serif" font-size="10" text-anchor="end" fill="#2a2a2a" >16</text>
<line x1="27" y1="229.34" x2="29.6" y2="229.34" stroke="#8c8c8c" stroke-width="1"/>
<text x="26.1" y="232.74" font-family="Liberation Serif" font-size="10" text-anchor="end" fill="#2a2a2a" >12</text>
<line x1="27" y1="245.62" x2="29.6" y2="245.62" stroke="#8c8c8c" stroke-width="1"/>
<text x="26.1" y="249.02" font-family="Liberation Serif" font-size="10" text-anchor="end" fill="#2a2a2a" >8</text>
<line x1="27" y1="261.89" x2="29.6" y2="261.89" stroke="#8c8c8c" stroke-width="1"/>
<text x="26.1" y="265.29" font-family="Liberation Serif" font-size="10" text-anchor="end" fill="#2a2a2a" >4</text>
<line x1="27" y1="278.16" x2="29.6" y2="278.16" stroke="#8c8c8c" stroke-width="1"/>
<text x="26.1" y="281.56" font-family="Liberation Serif" font-size="10" text-anchor="end" fill="#2a2a2a" >0</text>
<line x1="27" y1="294.43" x2="29.6" y2="294.43" stroke="#8c8c8c" stroke-width="1"/>
<text x="26.1" y="297.83" font-family="Liberation Serif" font-size="10" text-anchor="end" fill="#2a2a2a" >-4</text>
<line x1="27" y1="310.71" x2="29.6" y2="310.71" stroke="#8c8c8c" stroke-width="1"/>
<text x="26.1" y="314.11" font-family="Liberation Serif" font-size="10" text-anchor="end" fill="#2a2a2a" >-8</text>
<line x1="27" y1="326.98" x2="29.6" y2="326.98" stroke="#8c8c8c" stroke-width="1"/>
<text x="26.1" y="330.38" font-family="Liberation Serif" font-size="10" text-anchor="end" fill="#2a2a2a" >-12</text>
<line x1="27" y1="343.25" x2="29.6" y2="343.25" stroke="#8c8c8c" stroke-width="1"/>
<text x="26.1" y="346.65" font-family="Liberation Serif" font-size="10" text-anchor="end" fill="#2a2a2a" >-16</text>
<line x1="27.1" y1="204.94" x2="29.6" y2="204.94" stroke="#8c8c8c" stroke-width="1"/>
<line x1="27.1" y1="221.21" x2="29.6" y2="221.21" stroke="#8c8c8c" stroke-width="1"/>
<line x1="27.1" y1="237.48" x2="29.6" y2="237.48" stroke="#8c8c8c" stroke-width="1"/>
<line x1="27.1" y1="253.75" x2="29.6" y2="253.75" stroke="#8c8c8c" stroke-width="1"/>
<line x1="27.1" y1="270.02" x2="29.6" y2="270.02" stroke="#8c8c8c" stroke-width="1"/>
<line x1="27.1" y1="286.3" x2="29.6" y2="286.3" stroke="#8c8c8c" stroke-width="1"/>
<line x1="27.1" y1="302.57" x2="29.6" y2="302.57" stroke="#8c8c8c" stroke-width="1"/>
<line x1="27.1" y1="318.84" x2="29.6" y2="318.84" stroke="#8c8c8c" stroke-width="1"/>
<line x1="27.1" y1="335.11" x2="29.6" y2="335.11" stroke="#8c8c8c" stroke-width="1"/>
<line x1="29.6" y1="273.25" x2="292.9" y2="273.25" stroke="#7a7a7a" stroke-width="1.1"/>
<line x1="162.6" y1="273.25" x2="162.6" y2="304.5" stroke="#7a7a7a" stroke-width="1"/>
<line x1="292.9" y1="273.25" x2="292.9" y2="304.5" stroke="#7a7a7a" stroke-width="1"/>
<text x="50.75" y="326.8" font-family="Liberation Serif" font-size="9.2" font-weight="bold" text-anchor="middle" fill="#000" >seed</text>
<text x="90.5" y="326.8" font-family="Liberation Serif" font-size="9.2" font-weight="bold" text-anchor="middle" fill="#000" >veg</text>
<text x="141" y="326.8" font-family="Liberation Serif" font-size="9.2" font-weight="bold" text-anchor="middle" fill="#000" >rep</text>
<text x="193.1" y="325.8" font-family="Liberation Serif" font-size="9.2" font-weight="bold" text-anchor="middle" fill="#000" >seed</text>
<text x="233.75" y="325.8" font-family="Liberation Serif" font-size="9.2" font-weight="bold" text-anchor="middle" fill="#000" >veg</text>
<text x="284.25" y="325.8" font-family="Liberation Serif" font-size="9.2" font-weight="bold" text-anchor="middle" fill="#000" >rep</text>
<text x="32.6" y="214.2" font-family="Liberation Sans" font-size="10" font-weight="bold" fill="#000" >(c)</text>
<text x="56.6" y="214.8" font-family="Liberation Serif" font-size="10.6" font-weight="bold" font-style="italic" fill="#000" >OsHsfA7</text>
<text x="6.1" y="273.5" font-family="Liberation Serif" font-size="10.8" font-weight="bold" text-anchor="middle" fill="#000" transform="rotate(-90 6.1 273.5)" dy="3.6">Fold change</text>
<text x="107" y="358.7" font-family="Liberation Serif" font-size="10.6" font-weight="bold" text-anchor="middle" fill="#000" >N22</text>
<text x="228.8" y="358.2" font-family="Liberation Serif" font-size="10.6" font-weight="bold" text-anchor="middle" fill="#000" >Vandana</text>
<path d="M39.75 263H45.25M42.5 263V265.5M39.75 265.5H45.25" stroke="#222" stroke-width="0.8" fill="none"/>
<path d="M49.55 269.2H55.05M52.3 269.2V272.7M49.55 272.7H55.05" stroke="#222" stroke-width="0.8" fill="none"/>
<path d="M58.75 250.8H64.25M61.5 250.8V251.8M58.75 251.8H64.25" stroke="#222" stroke-width="0.8" fill="none"/>
<path d="M84.85 280.8H90.35M87.6 280.8V283.9M84.85 283.9H90.35" stroke="#222" stroke-width="0.8" fill="none"/>
<path d="M94.25 264H99.75M97 264V267M94.25 267H99.75" stroke="#222" stroke-width="0.8" fill="none"/>
<path d="M148.65 270.2H154.15M151.4 270.2V272.3M148.65 272.3H154.15" stroke="#222" stroke-width="0.8" fill="none"/>
<path d="M103.85 340.5H109.35M106.6 340.5V343.5M103.85 343.5H109.35" stroke="#222" stroke-width="0.8" fill="none"/>
<path d="M174.75 227H180.25M177.5 227V230.2M174.75 230.2H180.25" stroke="#222" stroke-width="0.8" fill="none"/>
<path d="M184.05 260.9H189.55M186.8 260.9V263M184.05 263H189.55" stroke="#222" stroke-width="0.8" fill="none"/>
<path d="M193.85 227H199.35M196.6 227V229.6M193.85 229.6H199.35" stroke="#222" stroke-width="0.8" fill="none"/>
<path d="M220.05 282.8H225.55M222.8 282.8V285.8M220.05 285.8H225.55" stroke="#222" stroke-width="0.8" fill="none"/>
<path d="M229.15 250.5H234.65M231.9 250.5V252M229.15 252H234.65" stroke="#222" stroke-width="0.8" fill="none"/>
<path d="M264.75 270.5H270.25M267.5 270.5V273.2M264.75 273.2H270.25" stroke="#222" stroke-width="0.8" fill="none"/>
<path d="M274.25 270.7H279.75M277 270.7V272.5M274.25 272.5H279.75" stroke="#222" stroke-width="0.8" fill="none"/>
<path d="M284.25 263H289.75M287 263V265.4M284.25 265.4H289.75" stroke="#222" stroke-width="0.8" fill="none"/>
<path d="M42.3 257.8L42.77 259.36L44.39 259.32L43.05 260.24L43.59 261.78L42.3 260.79L41.01 261.78L41.55 260.24L40.21 259.32L41.83 259.36ZM61.7 245.5L62.17 247.06L63.79 247.02L62.45 247.94L62.99 249.48L61.7 248.49L60.41 249.48L60.95 247.94L59.61 247.02L61.23 247.06ZM88.9 283.3L89.3 284.65L90.71 284.61L89.55 285.41L90.02 286.74L88.9 285.88L87.78 286.74L88.25 285.41L87.09 284.61L88.5 284.65ZM88.9 286.3L89.3 287.65L90.71 287.61L89.55 288.41L90.02 289.74L88.9 288.88L87.78 289.74L88.25 288.41L87.09 287.61L88.5 287.65ZM88.9 289.3L89.3 290.65L90.71 290.61L89.55 291.41L90.02 292.74L88.9 291.88L87.78 292.74L88.25 291.41L87.09 290.61L88.5 290.65ZM106.6 344.3L107.07 345.86L108.69 345.82L107.35 346.74L107.89 348.28L106.6 347.29L105.31 348.28L105.85 346.74L104.51 345.82L106.13 345.86ZM187.6 256L188.07 257.56L189.69 257.52L188.35 258.44L188.89 259.98L187.6 258.99L186.31 259.98L186.85 258.44L185.51 257.52L187.13 257.56ZM196.8 221.3L197.27 222.86L198.89 222.82L197.55 223.74L198.09 225.28L196.8 224.29L195.51 225.28L196.05 223.74L194.71 222.82L196.33 222.86ZM223 287.5L223.42 288.92L224.9 288.88L223.68 289.72L224.18 291.12L223 290.22L221.82 291.12L222.32 289.72L221.1 288.88L222.58 288.92ZM223 291.3L223.42 292.72L224.9 292.68L223.68 293.52L224.18 294.92L223 294.02L221.82 294.92L222.32 293.52L221.1 292.68L222.58 292.72ZM223 295.1L223.42 296.52L224.9 296.48L223.68 297.32L224.18 298.72L223 297.82L221.82 298.72L222.32 297.32L221.1 296.48L222.58 296.52ZM231.9 245.2L232.37 246.76L233.99 246.72L232.65 247.64L233.19 249.18L231.9 248.19L230.61 249.18L231.15 247.64L229.81 246.72L231.43 246.76ZM266.7 260.1L267.17 261.66L268.79 261.62L267.45 262.54L267.99 264.08L266.7 263.09L265.41 264.08L265.95 262.54L264.61 261.62L266.23 261.66ZM266.7 264.8L267.17 266.36L268.79 266.32L267.45 267.24L267.99 268.78L266.7 267.79L265.41 268.78L265.95 267.24L264.61 266.32L266.23 266.36ZM286.7 252.6L287.17 254.16L288.79 254.12L287.45 255.04L287.99 256.58L286.7 255.59L285.41 256.58L285.95 255.04L284.61 254.12L286.23 254.16ZM286.7 257.1L287.17 258.66L288.79 258.62L287.45 259.54L287.99 261.08L286.7 260.09L285.41 261.08L285.95 259.54L284.61 258.62L286.23 258.66Z" fill="#4a4a4a" stroke="#4a4a4a" stroke-width="0.25"/>
<rect x="372" y="220" width="9.5" height="14.9" fill="url(#gB)"/>
<rect x="372.6" y="220" width="8.3" height="1" fill="#3b78e6" fill-opacity="0.85"/>
<ellipse cx="376.75" cy="221.9" rx="3.15" ry="0.9" fill="#0e3994" fill-opacity="0.75"/>
<path d="M373.2 234.9L376.75 230.7L380.3 234.9Z" fill="#3b78e6" fill-opacity="0.55"/>
<rect x="381.8" y="223.6" width="9.8" height="11.3" fill="url(#gR)"/>
<rect x="382.4" y="223.6" width="8.6" height="1" fill="#ffa0a0" fill-opacity="0.85"/>
<ellipse cx="386.7" cy="225.5" rx="3.3" ry="0.9" fill="#c83e42" fill-opacity="0.75"/>
<path d="M383 234.9L386.7 230.7L390.4 234.9Z" fill="#ffa0a0" fill-opacity="0.55"/>
<rect x="391.8" y="225.7" width="10" height="9.2" fill="url(#gG)"/>
<rect x="392.4" y="225.7" width="8.8" height="1" fill="#d8ffb0" fill-opacity="0.85"/>
<ellipse cx="396.8" cy="227.6" rx="3.4" ry="0.9" fill="#74bc52" fill-opacity="0.75"/>
<path d="M393 234.9L396.8 230.7L400.6 234.9Z" fill="#d8ffb0" fill-opacity="0.55"/>
<rect x="419" y="216" width="9" height="18.9" fill="url(#gB)"/>
<rect x="419.6" y="216" width="7.8" height="1" fill="#3b78e6" fill-opacity="0.85"/>
<ellipse cx="423.5" cy="217.9" rx="2.9" ry="0.9" fill="#0e3994" fill-opacity="0.75"/>
<path d="M420.2 234.9L423.5 230.7L426.8 234.9Z" fill="#3b78e6" fill-opacity="0.55"/>
<rect x="428" y="225.2" width="10" height="9.7" fill="url(#gR)"/>
<rect x="428.6" y="225.2" width="8.8" height="1" fill="#ffa0a0" fill-opacity="0.85"/>
<ellipse cx="433" cy="227.1" rx="3.4" ry="0.9" fill="#c83e42" fill-opacity="0.75"/>
<path d="M429.2 234.9L433 230.7L436.8 234.9Z" fill="#ffa0a0" fill-opacity="0.55"/>
<rect x="438" y="232.2" width="9.2" height="2.7" fill="url(#gG)"/>
<path d="M439.2 234.9L442.6 233.28L446 234.9Z" fill="#d8ffb0" fill-opacity="0.55"/>
<rect x="464.4" y="229.8" width="9.2" height="5.1" fill="url(#gB)"/>
<rect x="465" y="229.8" width="8" height="1" fill="#3b78e6" fill-opacity="0.85"/>
<ellipse cx="469" cy="231.7" rx="3" ry="0.9" fill="#0e3994" fill-opacity="0.75"/>
<path d="M465.6 234.9L469 231.84L472.4 234.9Z" fill="#3b78e6" fill-opacity="0.55"/>
<rect x="473.6" y="234.9" width="8.9" height="22.4" fill="url(#gR)"/>
<path d="M474.8 234.9L478.05 239.1L481.3 234.9Z" fill="#ffa0a0" fill-opacity="0.55"/>
<rect x="483" y="234.9" width="9.1" height="36.5" fill="url(#gG)"/>
<path d="M484.2 234.9L487.55 239.1L490.9 234.9Z" fill="#d8ffb0" fill-opacity="0.55"/>
<rect x="509.5" y="234.9" width="9.2" height="22.8" fill="url(#gB)"/>
<path d="M510.7 234.9L514.1 239.1L517.5 234.9Z" fill="#3b78e6" fill-opacity="0.55"/>
<rect x="518.7" y="234.9" width="8.9" height="17.5" fill="url(#gR)"/>
<path d="M519.9 234.9L523.15 239.1L526.4 234.9Z" fill="#ffa0a0" fill-opacity="0.55"/>
<rect x="527.9" y="218.3" width="9.8" height="16.6" fill="url(#gG)"/>
<rect x="528.5" y="218.3" width="8.6" height="1" fill="#d8ffb0" fill-opacity="0.85"/>
<ellipse cx="532.8" cy="220.2" rx="3.3" ry="0.9" fill="#74bc52" fill-opacity="0.75"/>
<path d="M529.1 234.9L532.8 230.7L536.5 234.9Z" fill="#d8ffb0" fill-opacity="0.55"/>
<rect x="554.1" y="230.3" width="9.8" height="4.6" fill="url(#gB)"/>
<rect x="554.7" y="230.3" width="8.6" height="1" fill="#3b78e6" fill-opacity="0.85"/>
<ellipse cx="559" cy="232.2" rx="3.3" ry="0.9" fill="#0e3994" fill-opacity="0.75"/>
<path d="M555.3 234.9L559 232.14L562.7 234.9Z" fill="#3b78e6" fill-opacity="0.55"/>
<rect x="563.9" y="223.3" width="9.3" height="11.6" fill="url(#gR)"/>
<rect x="564.5" y="223.3" width="8.1" height="1" fill="#ffa0a0" fill-opacity="0.85"/>
<ellipse cx="568.55" cy="225.2" rx="3.05" ry="0.9" fill="#c83e42" fill-opacity="0.75"/>
<path d="M565.1 234.9L568.55 230.7L572 234.9Z" fill="#ffa0a0" fill-opacity="0.55"/>
<rect x="573.2" y="234.9" width="9.5" height="79.8" fill="url(#gG)"/>
<path d="M574.4 234.9L577.95 239.1L581.5 234.9Z" fill="#d8ffb0" fill-opacity="0.55"/>
<rect x="572.7" y="296.8" width="10.5" height="1.6" fill="#fff"/>
<rect x="599.7" y="185.5" width="9.2" height="49.4" fill="url(#gB)"/>
<rect x="600.3" y="185.5" width="8" height="1" fill="#3b78e6" fill-opacity="0.85"/>
<ellipse cx="604.3" cy="187.4" rx="3" ry="0.9" fill="#0e3994" fill-opacity="0.75"/>
<path d="M600.9 234.9L604.3 230.7L607.7 234.9Z" fill="#3b78e6" fill-opacity="0.55"/>
<rect x="608.9" y="234.9" width="9.3" height="22.6" fill="url(#gR)"/>
<path d="M610.1 234.9L613.55 239.1L617 234.9Z" fill="#ffa0a0" fill-opacity="0.55"/>
<rect x="618.2" y="230.6" width="9.8" height="4.3" fill="url(#gG)"/>
<rect x="618.8" y="230.6" width="8.6" height="1" fill="#d8ffb0" fill-opacity="0.85"/>
<ellipse cx="623.1" cy="232.5" rx="3.3" ry="0.9" fill="#74bc52" fill-opacity="0.75"/>
<path d="M619.4 234.9L623.1 232.32L626.8 234.9Z" fill="#d8ffb0" fill-opacity="0.55"/>
<line x1="365.6" y1="186" x2="365.6" y2="327.5" stroke="#8c8c8c" stroke-width="1"/>
<line x1="363" y1="186.3" x2="365.6" y2="186.3" stroke="#8c8c8c" stroke-width="1"/>
<text x="359.3" y="188" font-family="Liberation Serif" font-size="10" text-anchor="end" fill="#2a2a2a" >11</text>
<line x1="363" y1="196.6" x2="365.6" y2="196.6" stroke="#8c8c8c" stroke-width="1"/>
<text x="359.3" y="200" font-family="Liberation Serif" font-size="10" text-anchor="end" fill="#2a2a2a" >9</text>
<line x1="363" y1="206.3" x2="365.6" y2="206.3" stroke="#8c8c8c" stroke-width="1"/>
<text x="359.3" y="209.7" font-family="Liberation Serif" font-size="10" text-anchor="end" fill="#2a2a2a" >7</text>
<line x1="363" y1="215.9" x2="365.6" y2="215.9" stroke="#8c8c8c" stroke-width="1"/>
<text x="359.3" y="219.3" font-family="Liberation Serif" font-size="10" text-anchor="end" fill="#2a2a2a" >5</text>
<line x1="363" y1="225.4" x2="365.6" y2="225.4" stroke="#8c8c8c" stroke-width="1"/>
<text x="359.3" y="228.8" font-family="Liberation Serif" font-size="10" text-anchor="end" fill="#2a2a2a" >3</text>
<line x1="363" y1="235" x2="365.6" y2="235" stroke="#8c8c8c" stroke-width="1"/>
<text x="359.3" y="238.4" font-family="Liberation Serif" font-size="10" text-anchor="end" fill="#2a2a2a" >1</text>
<line x1="363" y1="244.09" x2="365.6" y2="244.09" stroke="#8c8c8c" stroke-width="1"/>
<text x="359.3" y="247.49" font-family="Liberation Serif" font-size="10" text-anchor="end" fill="#2a2a2a" >-1</text>
<line x1="363" y1="254.02" x2="365.6" y2="254.02" stroke="#8c8c8c" stroke-width="1"/>
<text x="359.3" y="257.42" font-family="Liberation Serif" font-size="10" text-anchor="end" fill="#2a2a2a" >-3</text>
<line x1="363" y1="263.95" x2="365.6" y2="263.95" stroke="#8c8c8c" stroke-width="1"/>
<text x="359.3" y="267.35" font-family="Liberation Serif" font-size="10" text-anchor="end" fill="#2a2a2a" >-5</text>
<line x1="363" y1="273.89" x2="365.6" y2="273.89" stroke="#8c8c8c" stroke-width="1"/>
<text x="359.3" y="277.29" font-family="Liberation Serif" font-size="10" text-anchor="end" fill="#2a2a2a" >-7</text>
<line x1="363" y1="283.82" x2="365.6" y2="283.82" stroke="#8c8c8c" stroke-width="1"/>
<text x="359.3" y="287.22" font-family="Liberation Serif" font-size="10" text-anchor="end" fill="#2a2a2a" >-9</text>
<line x1="363" y1="293.75" x2="365.6" y2="293.75" stroke="#8c8c8c" stroke-width="1"/>
<text x="359.3" y="297.15" font-family="Liberation Serif" font-size="10" text-anchor="end" fill="#2a2a2a" >-11</text>
<line x1="363" y1="308" x2="365.6" y2="308" stroke="#8c8c8c" stroke-width="1"/>
<text x="359.3" y="311.4" font-family="Liberation Serif" font-size="10" text-anchor="end" fill="#2a2a2a" >-15</text>
<line x1="363" y1="322.5" x2="365.6" y2="322.5" stroke="#8c8c8c" stroke-width="1"/>
<text x="359.3" y="325.9" font-family="Liberation Serif" font-size="10" text-anchor="end" fill="#2a2a2a" >-20</text>
<line x1="365.6" y1="234.9" x2="633.1" y2="234.9" stroke="#7a7a7a" stroke-width="1.1"/>
<line x1="499.5" y1="234.9" x2="499.5" y2="267.2" stroke="#7a7a7a" stroke-width="1"/>
<line x1="633.1" y1="234.9" x2="633.1" y2="267" stroke="#7a7a7a" stroke-width="1"/>
<text x="391.25" y="309.3" font-family="Liberation Serif" font-size="9.2" font-weight="bold" text-anchor="middle" fill="#000" >seed</text>
<text x="431.5" y="308.3" font-family="Liberation Serif" font-size="9.2" font-weight="bold" text-anchor="middle" fill="#000" >veg</text>
<text x="481" y="307.3" font-family="Liberation Serif" font-size="9.2" font-weight="bold" text-anchor="middle" fill="#000" >rep</text>
<text x="525.6" y="307" font-family="Liberation Serif" font-size="9.2" font-weight="bold" text-anchor="middle" fill="#000" >seed</text>
<text x="577.6" y="309" font-family="Liberation Serif" font-size="9.2" font-weight="bold" text-anchor="middle" fill="#000" >veg</text>
<text x="614.5" y="309" font-family="Liberation Serif" font-size="9.2" font-weight="bold" text-anchor="middle" fill="#000" >rep</text>
<text x="368.75" y="199.1" font-family="Liberation Sans" font-size="10" font-weight="bold" fill="#000" >(d)</text>
<text x="383.75" y="199.3" font-family="Liberation Serif" font-size="10.6" font-weight="bold" font-style="italic" fill="#000" >OsHsp81.1</text>
<text x="344.2" y="248.75" font-family="Liberation Serif" font-size="10.8" font-weight="bold" text-anchor="middle" fill="#000" transform="rotate(-90 344.2 248.75)" dy="3.6">Fold change</text>
<text x="441" y="334.95" font-family="Liberation Serif" font-size="10.6" font-weight="bold" text-anchor="middle" fill="#000" >N22</text>
<text x="582" y="333.6" font-family="Liberation Serif" font-size="10.6" font-weight="bold" text-anchor="middle" fill="#000" >Vandana</text>
<path d="M373.95 219.5H379.45M376.7 219.5V221M373.95 221H379.45" stroke="#222" stroke-width="0.8" fill="none"/>
<path d="M385.55 220.4H391.05M388.3 220.4V224.3M385.55 224.3H391.05" stroke="#222" stroke-width="0.8" fill="none"/>
<path d="M430.25 224.4H435.75M433 224.4V226.4M430.25 226.4H435.75" stroke="#222" stroke-width="0.8" fill="none"/>
<path d="M466.25 228.1H471.75M469 228.1V232.8M466.25 232.8H471.75" stroke="#222" stroke-width="0.8" fill="none"/>
<path d="M484.85 270.2H490.35M487.6 270.2V274.3M484.85 274.3H490.35" stroke="#222" stroke-width="0.8" fill="none"/>
<path d="M511.25 255.6H516.75M514 255.6V258.7M511.25 258.7H516.75" stroke="#222" stroke-width="0.8" fill="none"/>
<path d="M520.45 251H525.95M523.2 251V254M520.45 254H525.95" stroke="#222" stroke-width="0.8" fill="none"/>
<path d="M530.05 217.8H535.55M532.8 217.8V220.5M530.05 220.5H535.55" stroke="#222" stroke-width="0.8" fill="none"/>
<path d="M556.25 229.8H561.75M559 229.8V231M556.25 231H561.75" stroke="#222" stroke-width="0.8" fill="none"/>
<path d="M601.45 185.1H606.95M604.2 185.1V187.8M601.45 187.8H606.95" stroke="#222" stroke-width="0.8" fill="none"/>
<path d="M610.85 256H616.35M613.6 256V258.7M610.85 258.7H616.35" stroke="#222" stroke-width="0.8" fill="none"/>
<path d="M620.25 229.7H625.75M623 229.7V232.7M620.25 232.7H625.75" stroke="#222" stroke-width="0.8" fill="none"/>
<path d="M396.7 214L397.23 215.77L399.08 215.73L397.56 216.78L398.17 218.52L396.7 217.4L395.23 218.52L395.84 216.78L394.32 215.73L396.17 215.77ZM396.7 218.7L397.23 220.47L399.08 220.43L397.56 221.48L398.17 223.22L396.7 222.1L395.23 223.22L395.84 221.48L394.32 220.43L396.17 220.47ZM423.7 205.8L424.23 207.57L426.08 207.53L424.56 208.58L425.17 210.32L423.7 209.2L422.23 210.32L422.84 208.58L421.32 207.53L423.17 207.57ZM423.7 210.5L424.23 212.27L426.08 212.23L424.56 213.28L425.17 215.02L423.7 213.9L422.23 215.02L422.84 213.28L421.32 212.23L423.17 212.27ZM433.1 211.4L433.5 212.75L434.91 212.71L433.75 213.51L434.22 214.84L433.1 213.98L431.98 214.84L432.45 213.51L431.29 212.71L432.7 212.75ZM433.1 214.8L433.5 216.15L434.91 216.11L433.75 216.91L434.22 218.24L433.1 217.38L431.98 218.24L432.45 216.91L431.29 216.11L432.7 216.15ZM433.1 218.2L433.5 219.55L434.91 219.51L433.75 220.31L434.22 221.64L433.1 220.78L431.98 221.64L432.45 220.31L431.29 219.51L432.7 219.55ZM433.1 221.3L433.5 222.65L434.91 222.61L433.75 223.41L434.22 224.74L433.1 223.88L431.98 224.74L432.45 223.41L431.29 222.61L432.7 222.65ZM478.4 258.1L478.93 259.87L480.78 259.83L479.26 260.88L479.87 262.62L478.4 261.5L476.93 262.62L477.54 260.88L476.02 259.83L477.87 259.87ZM478.4 261.7L478.93 263.47L480.78 263.43L479.26 264.48L479.87 266.22L478.4 265.1L476.93 266.22L477.54 264.48L476.02 263.43L477.87 263.47ZM478.4 265.3L478.93 267.07L480.78 267.03L479.26 268.08L479.87 269.82L478.4 268.7L476.93 269.82L477.54 268.08L476.02 267.03L477.87 267.07ZM515.3 259.5L515.83 261.27L517.68 261.23L516.16 262.28L516.77 264.02L515.3 262.9L513.83 264.02L514.44 262.28L512.92 261.23L514.77 261.27ZM515.3 263.5L515.83 265.27L517.68 265.23L516.16 266.28L516.77 268.02L515.3 266.9L513.83 268.02L514.44 266.28L512.92 265.23L514.77 265.27ZM515.3 267.5L515.83 269.27L517.68 269.23L516.16 270.28L516.77 272.02L515.3 270.9L513.83 272.02L514.44 270.28L512.92 269.23L514.77 269.27ZM523.5 255.2L524.03 256.97L525.88 256.93L524.36 257.98L524.97 259.72L523.5 258.6L522.03 259.72L522.64 257.98L521.12 256.93L522.97 256.97ZM523.5 259.2L524.03 260.97L525.88 260.93L524.36 261.98L524.97 263.72L523.5 262.6L522.03 263.72L522.64 261.98L521.12 260.93L522.97 260.97ZM532.7 211.2L533.23 212.97L535.08 212.93L533.56 213.98L534.17 215.72L532.7 214.6L531.23 215.72L531.84 213.98L530.32 212.93L532.17 212.97ZM568.5 210.2L569.03 211.97L570.88 211.93L569.36 212.98L569.97 214.72L568.5 213.6L567.03 214.72L567.64 212.98L566.12 211.93L567.97 211.97ZM568.5 214.3L569.03 216.07L570.88 216.03L569.36 217.08L569.97 218.82L568.5 217.7L567.03 218.82L567.64 217.08L566.12 216.03L567.97 216.07ZM568.5 218.4L569.03 220.17L570.88 220.13L569.36 221.18L569.97 222.92L568.5 221.8L567.03 222.92L567.64 221.18L566.12 220.13L567.97 220.17ZM579 316.2L579.53 317.97L581.38 317.93L579.86 318.98L580.47 320.72L579 319.6L577.53 320.72L578.14 318.98L576.62 317.93L578.47 317.97ZM579 320.7L579.53 322.47L581.38 322.43L579.86 323.48L580.47 325.22L579 324.1L577.53 325.22L578.14 323.48L576.62 322.43L578.47 322.47ZM603.8 179.5L604.33 181.27L606.18 181.23L604.66 182.28L605.27 184.02L603.8 182.9L602.33 184.02L602.94 182.28L601.42 181.23L603.27 181.27ZM614.5 260.3L615.03 262.07L616.88 262.03L615.36 263.08L615.97 264.82L614.5 263.7L613.03 264.82L613.64 263.08L612.12 262.03L613.97 262.07ZM614.5 264.4L615.03 266.17L616.88 266.13L615.36 267.18L615.97 268.92L614.5 267.8L613.03 268.92L613.64 267.18L612.12 266.13L613.97 266.17ZM614.5 268.5L615.03 270.27L616.88 270.23L615.36 271.28L615.97 273.02L614.5 271.9L613.03 273.02L613.64 271.28L612.12 270.23L613.97 270.27ZM623 219.4L623.53 221.17L625.38 221.13L623.86 222.18L624.47 223.92L623 222.8L621.53 223.92L622.14 222.18L620.62 221.13L622.47 221.17ZM623 224.1L623.53 225.87L625.38 225.83L623.86 226.88L624.47 228.62L623 227.5L621.53 228.62L622.14 226.88L620.62 225.83L622.47 225.87Z" fill="#4a4a4a" stroke="#4a4a4a" stroke-width="0.25"/>
<path d="M362.1 303L369.1 298.5M362.1 305.5L369.1 301" stroke="#777" stroke-width="0.8" fill="none"/>
<rect x="42.2" y="442.1" width="8.1" height="1.5" fill="url(#gB)"/>
<rect x="51.3" y="443.6" width="9.9" height="15.4" fill="url(#gR)"/>
<path d="M52.5 443.6L56.25 447.8L60 443.6Z" fill="#ffa0a0" fill-opacity="0.55"/>
<rect x="61.2" y="432.5" width="9.6" height="11.1" fill="url(#gG)"/>
<rect x="61.8" y="432.5" width="8.4" height="1" fill="#d8ffb0" fill-opacity="0.85"/>
<ellipse cx="66" cy="434.4" rx="3.2" ry="0.9" fill="#74bc52" fill-opacity="0.75"/>
<path d="M62.4 443.6L66 439.4L69.6 443.6Z" fill="#d8ffb0" fill-opacity="0.55"/>
<rect x="87.1" y="442.1" width="8.8" height="1.5" fill="url(#gB)"/>
<rect x="96.7" y="443.6" width="8.8" height="22.6" fill="url(#gR)"/>
<path d="M97.9 443.6L101.1 447.8L104.3 443.6Z" fill="#ffa0a0" fill-opacity="0.55"/>
<rect x="105.5" y="443.6" width="9.6" height="21.6" fill="url(#gG)"/>
<path d="M106.7 443.6L110.3 447.8L113.9 443.6Z" fill="#d8ffb0" fill-opacity="0.55"/>
<rect x="132" y="429.8" width="9.3" height="13.8" fill="url(#gB)"/>
<rect x="132.6" y="429.8" width="8.1" height="1" fill="#3b78e6" fill-opacity="0.85"/>
<ellipse cx="136.65" cy="431.7" rx="3.05" ry="0.9" fill="#0e3994" fill-opacity="0.75"/>
<path d="M133.2 443.6L136.65 439.4L140.1 443.6Z" fill="#3b78e6" fill-opacity="0.55"/>
<rect x="141.3" y="443.6" width="9.2" height="14" fill="url(#gR)"/>
<path d="M142.5 443.6L145.9 447.8L149.3 443.6Z" fill="#ffa0a0" fill-opacity="0.55"/>
<rect x="150.5" y="443.6" width="9.6" height="19.5" fill="url(#gG)"/>
<path d="M151.7 443.6L155.3 447.8L158.9 443.6Z" fill="#d8ffb0" fill-opacity="0.55"/>
<rect x="176.9" y="441.6" width="9" height="2" fill="url(#gB)"/>
<path d="M178.1 443.6L181.4 442.4L184.7 443.6Z" fill="#3b78e6" fill-opacity="0.55"/>
<rect x="185.9" y="443.6" width="9.4" height="17.15" fill="url(#gR)"/>
<path d="M187.1 443.6L190.6 447.8L194.1 443.6Z" fill="#ffa0a0" fill-opacity="0.55"/>
<rect x="195.3" y="426.6" width="9" height="17" fill="url(#gG)"/>
<rect x="195.9" y="426.6" width="7.8" height="1" fill="#d8ffb0" fill-opacity="0.85"/>
<ellipse cx="199.8" cy="428.5" rx="2.9" ry="0.9" fill="#74bc52" fill-opacity="0.75"/>
<path d="M196.5 443.6L199.8 439.4L203.1 443.6Z" fill="#d8ffb0" fill-opacity="0.55"/>
<rect x="221.8" y="385.2" width="8.6" height="58.4" fill="url(#gB)"/>
<rect x="222.4" y="385.2" width="7.4" height="1" fill="#3b78e6" fill-opacity="0.85"/>
<ellipse cx="226.1" cy="387.1" rx="2.7" ry="0.9" fill="#0e3994" fill-opacity="0.75"/>
<path d="M223 443.6L226.1 439.4L229.2 443.6Z" fill="#3b78e6" fill-opacity="0.55"/>
<rect x="230.4" y="385.2" width="10.2" height="58.4" fill="url(#gR)"/>
<rect x="231" y="385.2" width="9" height="1" fill="#ffa0a0" fill-opacity="0.85"/>
<ellipse cx="235.5" cy="387.1" rx="3.5" ry="0.9" fill="#c83e42" fill-opacity="0.75"/>
<path d="M231.6 443.6L235.5 439.4L239.4 443.6Z" fill="#ffa0a0" fill-opacity="0.55"/>
<rect x="240.6" y="443.6" width="8.9" height="57.15" fill="url(#gG)"/>
<path d="M241.8 443.6L245.05 447.8L248.3 443.6Z" fill="#d8ffb0" fill-opacity="0.55"/>
<rect x="266.5" y="373.5" width="9.3" height="70.1" fill="url(#gB)"/>
<rect x="267.1" y="373.5" width="8.1" height="1" fill="#3b78e6" fill-opacity="0.85"/>
<ellipse cx="271.15" cy="375.4" rx="3.05" ry="0.9" fill="#0e3994" fill-opacity="0.75"/>
<path d="M267.7 443.6L271.15 439.4L274.6 443.6Z" fill="#3b78e6" fill-opacity="0.55"/>
<rect x="275.8" y="443.6" width="9.4" height="17.15" fill="url(#gR)"/>
<path d="M277 443.6L280.5 447.8L284 443.6Z" fill="#ffa0a0" fill-opacity="0.55"/>
<rect x="285.2" y="357.2" width="9.2" height="86.4" fill="url(#gG)"/>
<rect x="285.8" y="357.2" width="8" height="1" fill="#d8ffb0" fill-opacity="0.85"/>
<ellipse cx="289.8" cy="359.1" rx="3" ry="0.9" fill="#74bc52" fill-opacity="0.75"/>
<path d="M286.4 443.6L289.8 439.4L293.2 443.6Z" fill="#d8ffb0" fill-opacity="0.55"/>
<line x1="34.5" y1="356" x2="34.5" y2="504.5" stroke="#8c8c8c" stroke-width="1"/>
<line x1="31.9" y1="357.5" x2="34.5" y2="357.5" stroke="#8c8c8c" stroke-width="1"/>
<text x="28" y="360.9" font-family="Liberation Serif" font-size="10" text-anchor="end" fill="#2a2a2a" >14</text>
<line x1="31.9" y1="370.8" x2="34.5" y2="370.8" stroke="#8c8c8c" stroke-width="1"/>
<text x="28" y="374.2" font-family="Liberation Serif" font-size="10" text-anchor="end" fill="#2a2a2a" >12</text>
<line x1="31.9" y1="384.09" x2="34.5" y2="384.09" stroke="#8c8c8c" stroke-width="1"/>
<text x="28" y="387.49" font-family="Liberation Serif" font-size="10" text-anchor="end" fill="#2a2a2a" >10</text>
<line x1="31.9" y1="397.39" x2="34.5" y2="397.39" stroke="#8c8c8c" stroke-width="1"/>
<text x="30.6" y="400.79" font-family="Liberation Serif" font-size="10" text-anchor="end" fill="#2a2a2a" >8</text>
<line x1="31.9" y1="410.68" x2="34.5" y2="410.68" stroke="#8c8c8c" stroke-width="1"/>
<text x="30.6" y="414.08" font-family="Liberation Serif" font-size="10" text-anchor="end" fill="#2a2a2a" >6</text>
<line x1="31.9" y1="423.98" x2="34.5" y2="423.98" stroke="#8c8c8c" stroke-width="1"/>
<text x="30.6" y="427.38" font-family="Liberation Serif" font-size="10" text-anchor="end" fill="#2a2a2a" >4</text>
<line x1="31.9" y1="437.27" x2="34.5" y2="437.27" stroke="#8c8c8c" stroke-width="1"/>
<text x="30.6" y="440.67" font-family="Liberation Serif" font-size="10" text-anchor="end" fill="#2a2a2a" >2</text>
<line x1="31.9" y1="450.57" x2="34.5" y2="450.57" stroke="#8c8c8c" stroke-width="1"/>
<text x="30.6" y="453.97" font-family="Liberation Serif" font-size="10" text-anchor="end" fill="#2a2a2a" >0</text>
<line x1="31.9" y1="463.86" x2="34.5" y2="463.86" stroke="#8c8c8c" stroke-width="1"/>
<text x="30.6" y="467.26" font-family="Liberation Serif" font-size="10" text-anchor="end" fill="#2a2a2a" >-2</text>
<line x1="31.9" y1="477.16" x2="34.5" y2="477.16" stroke="#8c8c8c" stroke-width="1"/>
<text x="30.6" y="480.56" font-family="Liberation Serif" font-size="10" text-anchor="end" fill="#2a2a2a" >-4</text>
<line x1="31.9" y1="490.45" x2="34.5" y2="490.45" stroke="#8c8c8c" stroke-width="1"/>
<text x="30.6" y="493.85" font-family="Liberation Serif" font-size="10" text-anchor="end" fill="#2a2a2a" >-6</text>
<line x1="31.9" y1="503.75" x2="34.5" y2="503.75" stroke="#8c8c8c" stroke-width="1"/>
<text x="30.6" y="507.15" font-family="Liberation Serif" font-size="10" text-anchor="end" fill="#2a2a2a" >-8</text>
<line x1="34.5" y1="443.6" x2="300.4" y2="443.6" stroke="#7a7a7a" stroke-width="1.1"/>
<line x1="170.4" y1="443.6" x2="170.4" y2="475.2" stroke="#7a7a7a" stroke-width="1"/>
<line x1="300.4" y1="443.6" x2="300.4" y2="474.5" stroke="#7a7a7a" stroke-width="1"/>
<text x="57.1" y="491.9" font-family="Liberation Serif" font-size="9.2" font-weight="bold" text-anchor="middle" fill="#000" >seed</text>
<text x="97.3" y="491.9" font-family="Liberation Serif" font-size="9.2" font-weight="bold" text-anchor="middle" fill="#000" >veg</text>
<text x="148" y="491.9" font-family="Liberation Serif" font-size="9.2" font-weight="bold" text-anchor="middle" fill="#000" >rep</text>
<text x="204.1" y="492.3" font-family="Liberation Serif" font-size="9.2" font-weight="bold" text-anchor="middle" fill="#000" >seed</text>
<text x="244" y="492.3" font-family="Liberation Serif" font-size="9.2" font-weight="bold" text-anchor="middle" fill="#000" >veg</text>
<text x="293.5" y="492.3" font-family="Liberation Serif" font-size="9.2" font-weight="bold" text-anchor="middle" fill="#000" >rep</text>
<text x="37" y="374.85" font-family="Liberation Sans" font-size="10" font-weight="bold" fill="#000" >(e)</text>
<text x="53.75" y="375.05" font-family="Liberation Serif" font-size="10.6" font-weight="bold" font-style="italic" fill="#000" >OsHsp70</text>
<text x="10.6" y="442" font-family="Liberation Serif" font-size="10.8" font-weight="bold" text-anchor="middle" fill="#000" transform="rotate(-90 10.6 442)" dy="3.6">Fold change</text>
<text x="108.7" y="513.7" font-family="Liberation Serif" font-size="10.6" font-weight="bold" text-anchor="middle" fill="#000" >N22</text>
<text x="262.25" y="513.7" font-family="Liberation Serif" font-size="10.6" font-weight="bold" text-anchor="middle" fill="#000" >Vandana</text>
<path d="M55.15 456H60.65M57.9 456V462.5M55.15 462.5H60.65" stroke="#222" stroke-width="0.8" fill="none"/>
<path d="M63.35 431H68.85M66.1 431V434.5M63.35 434.5H68.85" stroke="#222" stroke-width="0.8" fill="none"/>
<path d="M88.75 441.2H94.25M91.5 441.2V443.3M88.75 443.3H94.25" stroke="#222" stroke-width="0.8" fill="none"/>
<path d="M152.55 462H158.05M155.3 462V463.5M152.55 463.5H158.05" stroke="#222" stroke-width="0.8" fill="none"/>
<path d="M197.25 425.2H202.75M200 425.2V428.7M197.25 428.7H202.75" stroke="#222" stroke-width="0.8" fill="none"/>
<path d="M188.15 458H193.65M190.9 458V462M188.15 462H193.65" stroke="#222" stroke-width="0.8" fill="none"/>
<path d="M223.35 384.5H228.85M226.1 384.5V386.5M223.35 386.5H228.85" stroke="#222" stroke-width="0.8" fill="none"/>
<path d="M232.75 382.7H238.25M235.5 382.7V389.2M232.75 389.2H238.25" stroke="#222" stroke-width="0.8" fill="none"/>
<path d="M242.25 499H247.75M245 499V501.5M242.25 501.5H247.75" stroke="#222" stroke-width="0.8" fill="none"/>
<path d="M267.55 372.9H273.05M270.3 372.9V376.2M267.55 376.2H273.05" stroke="#222" stroke-width="0.8" fill="none"/>
<path d="M277.45 459.5H282.95M280.2 459.5V463M277.45 463H282.95" stroke="#222" stroke-width="0.8" fill="none"/>
<path d="M286.85 355.7H292.35M289.6 355.7V358.6M286.85 358.6H292.35" stroke="#222" stroke-width="0.8" fill="none"/>
<path d="M66.1 418.7L66.63 420.47L68.48 420.43L66.96 421.48L67.57 423.22L66.1 422.1L64.63 423.22L65.24 421.48L63.72 420.43L65.57 420.47ZM66.1 423.8L66.63 425.57L68.48 425.53L66.96 426.58L67.57 428.32L66.1 427.2L64.63 428.32L65.24 426.58L63.72 425.53L65.57 425.57ZM102 466.7L102.53 468.47L104.38 468.43L102.86 469.48L103.47 471.22L102 470.1L100.53 471.22L101.14 469.48L99.62 468.43L101.47 468.47ZM102 472.1L102.53 473.87L104.38 473.83L102.86 474.88L103.47 476.62L102 475.5L100.53 476.62L101.14 474.88L99.62 473.83L101.47 473.87ZM102 477.5L102.53 479.27L104.38 479.23L102.86 480.28L103.47 482.02L102 480.9L100.53 482.02L101.14 480.28L99.62 479.23L101.47 479.27ZM110.4 465.5L110.84 466.99L112.4 466.95L111.12 467.83L111.63 469.3L110.4 468.36L109.17 469.3L109.68 467.83L108.4 466.95L109.96 466.99ZM110.4 469L110.84 470.49L112.4 470.45L111.12 471.33L111.63 472.8L110.4 471.86L109.17 472.8L109.68 471.33L108.4 470.45L109.96 470.49ZM110.4 472.5L110.84 473.99L112.4 473.95L111.12 474.83L111.63 476.3L110.4 475.36L109.17 476.3L109.68 474.83L108.4 473.95L109.96 473.99ZM146 458.3L146.53 460.07L148.38 460.03L146.86 461.08L147.47 462.82L146 461.7L144.53 462.82L145.14 461.08L143.62 460.03L145.47 460.07ZM190.5 464.5L191.03 466.27L192.88 466.23L191.36 467.28L191.97 469.02L190.5 467.9L189.03 469.02L189.64 467.28L188.12 466.23L189.97 466.27ZM190.5 470.5L191.03 472.27L192.88 472.23L191.36 473.28L191.97 475.02L190.5 473.9L189.03 475.02L189.64 473.28L188.12 472.23L189.97 472.27ZM270.3 366.9L270.83 368.67L272.68 368.63L271.16 369.68L271.77 371.42L270.3 370.3L268.83 371.42L269.44 369.68L267.92 368.63L269.77 368.67ZM288.6 349.5L289.13 351.27L290.98 351.23L289.46 352.28L290.07 354.02L288.6 352.9L287.13 354.02L287.74 352.28L286.22 351.23L288.07 351.27Z" fill="#4a4a4a" stroke="#4a4a4a" stroke-width="0.25"/>
<rect x="380.3" y="436.1" width="9.1" height="1.7" fill="url(#gB)"/>
<path d="M381.5 437.8L384.85 436.78L388.2 437.8Z" fill="#3b78e6" fill-opacity="0.55"/>
<rect x="390" y="437.8" width="9.2" height="22.7" fill="url(#gR)"/>
<path d="M391.2 437.8L394.6 442L398 437.8Z" fill="#ffa0a0" fill-opacity="0.55"/>
<rect x="399.3" y="428.9" width="9.5" height="8.9" fill="url(#gG)"/>
<rect x="399.9" y="428.9" width="8.3" height="1" fill="#d8ffb0" fill-opacity="0.85"/>
<ellipse cx="404.05" cy="430.8" rx="3.15" ry="0.9" fill="#74bc52" fill-opacity="0.75"/>
<path d="M400.5 437.8L404.05 433.6L407.6 437.8Z" fill="#d8ffb0" fill-opacity="0.55"/>
<rect x="424.8" y="428.9" width="9.5" height="8.9" fill="url(#gB)"/>
<rect x="425.4" y="428.9" width="8.3" height="1" fill="#3b78e6" fill-opacity="0.85"/>
<ellipse cx="429.55" cy="430.8" rx="3.15" ry="0.9" fill="#0e3994" fill-opacity="0.75"/>
<path d="M426 437.8L429.55 433.6L433.1 437.8Z" fill="#3b78e6" fill-opacity="0.55"/>
<rect x="434.6" y="436.1" width="9" height="1.7" fill="url(#gR)"/>
<path d="M435.8 437.8L439.1 436.78L442.4 437.8Z" fill="#ffa0a0" fill-opacity="0.55"/>
<rect x="444.2" y="437.8" width="8.8" height="22.7" fill="url(#gG)"/>
<path d="M445.4 437.8L448.6 442L451.8 437.8Z" fill="#d8ffb0" fill-opacity="0.55"/>
<rect x="470" y="361.4" width="9" height="76.4" fill="url(#gB)"/>
<rect x="470.6" y="361.4" width="7.8" height="1" fill="#3b78e6" fill-opacity="0.85"/>
<ellipse cx="474.5" cy="363.3" rx="2.9" ry="0.9" fill="#0e3994" fill-opacity="0.75"/>
<path d="M471.2 437.8L474.5 433.6L477.8 437.8Z" fill="#3b78e6" fill-opacity="0.55"/>
<rect x="469.5" y="371.4" width="10" height="1.5" fill="#fff"/>
<rect x="479" y="413.6" width="9.4" height="24.2" fill="url(#gR)"/>
<rect x="479.6" y="413.6" width="8.2" height="1" fill="#ffa0a0" fill-opacity="0.85"/>
<ellipse cx="483.7" cy="415.5" rx="3.1" ry="0.9" fill="#c83e42" fill-opacity="0.75"/>
<path d="M480.2 437.8L483.7 433.6L487.2 437.8Z" fill="#ffa0a0" fill-opacity="0.55"/>
<rect x="488.8" y="431.5" width="9.1" height="6.3" fill="url(#gG)"/>
<rect x="489.4" y="431.5" width="7.9" height="1" fill="#d8ffb0" fill-opacity="0.85"/>
<ellipse cx="493.35" cy="433.4" rx="2.95" ry="0.9" fill="#74bc52" fill-opacity="0.75"/>
<path d="M490 437.8L493.35 434.02L496.7 437.8Z" fill="#d8ffb0" fill-opacity="0.55"/>
<rect x="515.1" y="400.3" width="9.1" height="37.5" fill="url(#gB)"/>
<rect x="515.7" y="400.3" width="7.9" height="1" fill="#3b78e6" fill-opacity="0.85"/>
<ellipse cx="519.65" cy="402.2" rx="2.95" ry="0.9" fill="#0e3994" fill-opacity="0.75"/>
<path d="M516.3 437.8L519.65 433.6L523 437.8Z" fill="#3b78e6" fill-opacity="0.55"/>
<rect x="524.2" y="437.8" width="8.6" height="14.3" fill="url(#gR)"/>
<path d="M525.4 437.8L528.5 442L531.6 437.8Z" fill="#ffa0a0" fill-opacity="0.55"/>
<rect x="533.3" y="418.3" width="9.4" height="19.5" fill="url(#gG)"/>
<rect x="533.9" y="418.3" width="8.2" height="1" fill="#d8ffb0" fill-opacity="0.85"/>
<ellipse cx="538" cy="420.2" rx="3.1" ry="0.9" fill="#74bc52" fill-opacity="0.75"/>
<path d="M534.5 437.8L538 433.6L541.5 437.8Z" fill="#d8ffb0" fill-opacity="0.55"/>
<rect x="559.3" y="437.8" width="9.6" height="58.4" fill="url(#gB)"/>
<path d="M560.5 437.8L564.1 442L567.7 437.8Z" fill="#3b78e6" fill-opacity="0.55"/>
<rect x="568.9" y="434" width="9.4" height="3.8" fill="url(#gR)"/>
<path d="M570.1 437.8L573.6 435.52L577.1 437.8Z" fill="#ffa0a0" fill-opacity="0.55"/>
<rect x="578.3" y="437.8" width="8.6" height="37.6" fill="url(#gG)"/>
<path d="M579.5 437.8L582.6 442L585.7 437.8Z" fill="#d8ffb0" fill-opacity="0.55"/>
<rect x="604" y="426.3" width="9.4" height="11.5" fill="url(#gB)"/>
<rect x="604.6" y="426.3" width="8.2" height="1" fill="#3b78e6" fill-opacity="0.85"/>
<ellipse cx="608.7" cy="428.2" rx="3.1" ry="0.9" fill="#0e3994" fill-opacity="0.75"/>
<path d="M605.2 437.8L608.7 433.6L612.2 437.8Z" fill="#3b78e6" fill-opacity="0.55"/>
<rect x="613.4" y="437.8" width="9.1" height="15.7" fill="url(#gR)"/>
<path d="M614.6 437.8L617.95 442L621.3 437.8Z" fill="#ffa0a0" fill-opacity="0.55"/>
<rect x="622.5" y="355.6" width="9.5" height="82.2" fill="url(#gG)"/>
<rect x="623.1" y="355.6" width="8.3" height="1" fill="#d8ffb0" fill-opacity="0.85"/>
<ellipse cx="627.25" cy="357.5" rx="3.15" ry="0.9" fill="#74bc52" fill-opacity="0.75"/>
<path d="M623.7 437.8L627.25 433.6L630.8 437.8Z" fill="#d8ffb0" fill-opacity="0.55"/>
<rect x="622" y="376.3" width="10.5" height="1.5" fill="#fff"/>
<line x1="371.3" y1="340.4" x2="371.3" y2="378.4" stroke="#8c8c8c" stroke-width="1"/>
<line x1="372.6" y1="383.2" x2="372.6" y2="504.5" stroke="#8c8c8c" stroke-width="1"/>
<line x1="370" y1="347.2" x2="372.6" y2="347.2" stroke="#8c8c8c" stroke-width="1"/>
<text x="364.6" y="350.6" font-family="Liberation Serif" font-size="10" text-anchor="end" fill="#2a2a2a" >30</text>
<line x1="370" y1="360.1" x2="372.6" y2="360.1" stroke="#8c8c8c" stroke-width="1"/>
<text x="364.6" y="363.5" font-family="Liberation Serif" font-size="10" text-anchor="end" fill="#2a2a2a" >20</text>
<line x1="370" y1="373.7" x2="372.6" y2="373.7" stroke="#8c8c8c" stroke-width="1"/>
<text x="363.5" y="377.1" font-family="Liberation Serif" font-size="10" text-anchor="end" fill="#2a2a2a" >10</text>
<line x1="370" y1="388.75" x2="372.6" y2="388.75" stroke="#8c8c8c" stroke-width="1"/>
<text x="362.4" y="392.15" font-family="Liberation Serif" font-size="10" text-anchor="end" fill="#2a2a2a" >8</text>
<line x1="370" y1="403.03" x2="372.6" y2="403.03" stroke="#8c8c8c" stroke-width="1"/>
<text x="362.4" y="406.43" font-family="Liberation Serif" font-size="10" text-anchor="end" fill="#2a2a2a" >6</text>
<line x1="370" y1="417.31" x2="372.6" y2="417.31" stroke="#8c8c8c" stroke-width="1"/>
<text x="364.6" y="420.71" font-family="Liberation Serif" font-size="10" text-anchor="end" fill="#2a2a2a" >4</text>
<line x1="370" y1="431.59" x2="372.6" y2="431.59" stroke="#8c8c8c" stroke-width="1"/>
<text x="365" y="434.99" font-family="Liberation Serif" font-size="10" text-anchor="end" fill="#2a2a2a" >2</text>
<line x1="370" y1="445.88" x2="372.6" y2="445.88" stroke="#8c8c8c" stroke-width="1"/>
<text x="365.7" y="449.27" font-family="Liberation Serif" font-size="10" text-anchor="end" fill="#2a2a2a" >0</text>
<line x1="370" y1="460.16" x2="372.6" y2="460.16" stroke="#8c8c8c" stroke-width="1"/>
<text x="365.7" y="463.56" font-family="Liberation Serif" font-size="10" text-anchor="end" fill="#2a2a2a" >-2</text>
<line x1="370" y1="474.44" x2="372.6" y2="474.44" stroke="#8c8c8c" stroke-width="1"/>
<text x="365.7" y="477.84" font-family="Liberation Serif" font-size="10" text-anchor="end" fill="#2a2a2a" >-4</text>
<line x1="370" y1="488.72" x2="372.6" y2="488.72" stroke="#8c8c8c" stroke-width="1"/>
<text x="365.7" y="492.12" font-family="Liberation Serif" font-size="10" text-anchor="end" fill="#2a2a2a" >-6</text>
<line x1="370" y1="503" x2="372.6" y2="503" stroke="#8c8c8c" stroke-width="1"/>
<text x="365.7" y="506.4" font-family="Liberation Serif" font-size="10" text-anchor="end" fill="#2a2a2a" >-8</text>
<line x1="372.6" y1="437.8" x2="633.6" y2="437.8" stroke="#7a7a7a" stroke-width="1.1"/>
<line x1="504" y1="437.8" x2="504" y2="468.3" stroke="#7a7a7a" stroke-width="1"/>
<text x="398.9" y="492" font-family="Liberation Serif" font-size="9.2" font-weight="bold" text-anchor="middle" fill="#000" >seed</text>
<text x="439" y="491.2" font-family="Liberation Serif" font-size="9.2" font-weight="bold" text-anchor="middle" fill="#000" >veg</text>
<text x="486.25" y="490" font-family="Liberation Serif" font-size="9.2" font-weight="bold" text-anchor="middle" fill="#000" >rep</text>
<text x="537.4" y="489.8" font-family="Liberation Serif" font-size="9.2" font-weight="bold" text-anchor="middle" fill="#000" >seed</text>
<text x="583.2" y="491.7" font-family="Liberation Serif" font-size="9.2" font-weight="bold" text-anchor="middle" fill="#000" >veg</text>
<text x="619.4" y="491.2" font-family="Liberation Serif" font-size="9.2" font-weight="bold" text-anchor="middle" fill="#000" >rep</text>
<text x="373.75" y="363.6" font-family="Liberation Sans" font-size="10" font-weight="bold" fill="#000" >(f)</text>
<text x="391.25" y="363.8" font-family="Liberation Serif" font-size="10.6" font-weight="bold" font-style="italic" fill="#000" >Osfd</text>
<text x="347.2" y="415" font-family="Liberation Serif" font-size="10.8" font-weight="bold" text-anchor="middle" fill="#000" transform="rotate(-90 347.2 415)" dy="3.6">Fold change</text>
<text x="440" y="514.2" font-family="Liberation Serif" font-size="10.6" font-weight="bold" text-anchor="middle" fill="#000" >N22</text>
<text x="585" y="514.7" font-family="Liberation Serif" font-size="10.6" font-weight="bold" text-anchor="middle" fill="#000" >Vandana</text>
<path d="M401.25 428.3H406.75M404 428.3V431.6M401.25 431.6H406.75" stroke="#222" stroke-width="0.8" fill="none"/>
<path d="M446.25 460.3H451.75M449 460.3V461.3M446.25 461.3H451.75" stroke="#222" stroke-width="0.8" fill="none"/>
<path d="M426.75 428.5H432.25M429.5 428.5V430.5M426.75 430.5H432.25" stroke="#222" stroke-width="0.8" fill="none"/>
<path d="M391.85 458.3H397.35M394.6 458.3V463.5M391.85 463.5H397.35" stroke="#222" stroke-width="0.8" fill="none"/>
<path d="M480.65 412.6H486.15M483.4 412.6V415.6M480.65 415.6H486.15" stroke="#222" stroke-width="0.8" fill="none"/>
<path d="M490.25 431H495.75M493 431V434.4M490.25 434.4H495.75" stroke="#222" stroke-width="0.8" fill="none"/>
<path d="M526.85 451.8H532.35M529.6 451.8V454.3M526.85 454.3H532.35" stroke="#222" stroke-width="0.8" fill="none"/>
<path d="M579.75 475H585.25M582.5 475V476M579.75 476H585.25" stroke="#222" stroke-width="0.8" fill="none"/>
<path d="M535.25 417.6H540.75M538 417.6V421.3M535.25 421.3H540.75" stroke="#222" stroke-width="0.8" fill="none"/>
<path d="M561.25 495.4H566.75M564 495.4V500.2M561.25 500.2H566.75" stroke="#222" stroke-width="0.8" fill="none"/>
<path d="M605.95 425.6H611.45M608.7 425.6V428.5M605.95 428.5H611.45" stroke="#222" stroke-width="0.8" fill="none"/>
<path d="M615.25 453.3H620.75M618 453.3V456.3M615.25 456.3H620.75" stroke="#222" stroke-width="0.8" fill="none"/>
<path d="M624.55 354.5H630.05M627.3 354.5V356.5M624.55 356.5H630.05" stroke="#222" stroke-width="0.8" fill="none"/>
<path d="M385.3 425L385.83 426.77L387.68 426.73L386.16 427.78L386.77 429.52L385.3 428.4L383.83 429.52L384.44 427.78L382.92 426.73L384.77 426.77ZM385.3 429.5L385.83 431.27L387.68 431.23L386.16 432.28L386.77 434.02L385.3 432.9L383.83 434.02L384.44 432.28L382.92 431.23L384.77 431.27ZM395 464.7L395.53 466.47L397.38 466.43L395.86 467.48L396.47 469.22L395 468.1L393.53 469.22L394.14 467.48L392.62 466.43L394.47 466.47ZM438.4 430.5L438.93 432.27L440.78 432.23L439.26 433.28L439.87 435.02L438.4 433.9L436.93 435.02L437.54 433.28L436.02 432.23L437.87 432.27ZM449.5 461.9L449.9 463.25L451.31 463.21L450.15 464.01L450.62 465.34L449.5 464.48L448.38 465.34L448.85 464.01L447.69 463.21L449.1 463.25ZM449.5 465.4L449.9 466.75L451.31 466.71L450.15 467.51L450.62 468.84L449.5 467.98L448.38 468.84L448.85 467.51L447.69 466.71L449.1 466.75ZM449.5 468.9L449.9 470.25L451.31 470.21L450.15 471.01L450.62 472.34L449.5 471.48L448.38 472.34L448.85 471.01L447.69 470.21L449.1 470.25ZM449.5 472.4L449.9 473.75L451.31 473.71L450.15 474.51L450.62 475.84L449.5 474.98L448.38 475.84L448.85 474.51L447.69 473.71L449.1 473.75ZM474.8 346L475.33 347.77L477.18 347.73L475.66 348.78L476.27 350.52L474.8 349.4L473.33 350.52L473.94 348.78L472.42 347.73L474.27 347.77ZM474.8 350.5L475.33 352.27L477.18 352.23L475.66 353.28L476.27 355.02L474.8 353.9L473.33 355.02L473.94 353.28L472.42 352.23L474.27 352.27ZM474.8 355L475.33 356.77L477.18 356.73L475.66 357.78L476.27 359.52L474.8 358.4L473.33 359.52L473.94 357.78L472.42 356.73L474.27 356.77ZM483.4 400.9L483.93 402.67L485.78 402.63L484.26 403.68L484.87 405.42L483.4 404.3L481.93 405.42L482.54 403.68L481.02 402.63L482.87 402.67ZM483.4 406L483.93 407.77L485.78 407.73L484.26 408.78L484.87 410.52L483.4 409.4L481.93 410.52L482.54 408.78L481.02 407.73L482.87 407.77ZM493 424.4L493.53 426.17L495.38 426.13L493.86 427.18L494.47 428.92L493 427.8L491.53 428.92L492.14 427.18L490.62 426.13L492.47 426.17ZM529.6 454.6L530 455.95L531.41 455.91L530.25 456.71L530.72 458.04L529.6 457.18L528.48 458.04L528.95 456.71L527.79 455.91L529.2 455.95ZM529.6 458.1L530 459.45L531.41 459.41L530.25 460.21L530.72 461.54L529.6 460.68L528.48 461.54L528.95 460.21L527.79 459.41L529.2 459.45ZM529.6 461.6L530 462.95L531.41 462.91L530.25 463.71L530.72 465.04L529.6 464.18L528.48 465.04L528.95 463.71L527.79 462.91L529.2 462.95ZM529.6 465.1L530 466.45L531.41 466.41L530.25 467.21L530.72 468.54L529.6 467.68L528.48 468.54L528.95 467.21L527.79 466.41L529.2 466.45ZM537.8 411.2L538.33 412.97L540.18 412.93L538.66 413.98L539.27 415.72L537.8 414.6L536.33 415.72L536.94 413.98L535.42 412.93L537.27 412.97ZM573.4 427.4L573.93 429.17L575.78 429.13L574.26 430.18L574.87 431.92L573.4 430.8L571.93 431.92L572.54 430.18L571.02 429.13L572.87 429.17ZM582.5 476.4L582.9 477.75L584.31 477.71L583.15 478.51L583.62 479.84L582.5 478.98L581.38 479.84L581.85 478.51L580.69 477.71L582.1 477.75ZM582.5 480L582.9 481.35L584.31 481.31L583.15 482.11L583.62 483.44L582.5 482.58L581.38 483.44L581.85 482.11L580.69 481.31L582.1 481.35ZM582.5 483.6L582.9 484.95L584.31 484.91L583.15 485.71L583.62 487.04L582.5 486.18L581.38 487.04L581.85 485.71L580.69 484.91L582.1 484.95ZM582.5 487.2L582.9 488.55L584.31 488.51L583.15 489.31L583.62 490.64L582.5 489.78L581.38 490.64L581.85 489.31L580.69 488.51L582.1 488.55ZM618.7 457.8L619.23 459.57L621.08 459.53L619.56 460.58L620.17 462.32L618.7 461.2L617.23 462.32L617.84 460.58L616.32 459.53L618.17 459.57Z" fill="#4a4a4a" stroke="#4a4a4a" stroke-width="0.25"/>
<path d="M368.2 382.5L375.2 378M368.2 385L375.2 380.5" stroke="#777" stroke-width="0.8" fill="none"/>
<rect x="277.3" y="5.8" width="10" height="7.0" fill="url(#gB)"/>
<path d="M278.5 6.3999999999999995L282.3 9.0L286.1 6.3999999999999995Z" fill="url(#hB)"/>
<text x="292.2" y="12.8" font-family="Liberation Serif" font-size="11.1" font-weight="bold" fill="#000" >SDS</text>
<rect x="277.3" y="17" width="10" height="7.8" fill="url(#gR)"/>
<path d="M278.5 17.6L282.3 20.2L286.1 17.6Z" fill="url(#hR)"/>
<text x="292.2" y="24.7" font-family="Liberation Serif" font-size="11.1" font-weight="bold" fill="#000" >LDS</text>
<rect x="277.3" y="30.2" width="10" height="6.8" fill="url(#gG)"/>
<path d="M278.5 30.8L282.3 33.4L286.1 30.8Z" fill="url(#hG)"/>
<text x="292.2" y="36.4" font-family="Liberation Serif" font-size="11.1" font-weight="bold" fill="#000" >REC</text>
<text x="606.5" y="8.4" font-family="Liberation Serif" font-size="10.9" font-weight="bold" fill="#000" >seed-seedling</text>
<text x="606.5" y="17.4" font-family="Liberation Serif" font-size="10.9" font-weight="bold" fill="#000" >veg-vegetative</text>
<text x="606.5" y="26.6" font-family="Liberation Serif" font-size="10.9" font-weight="bold" fill="#000" >rep-reproductive</text>
</svg>
</body></html>
